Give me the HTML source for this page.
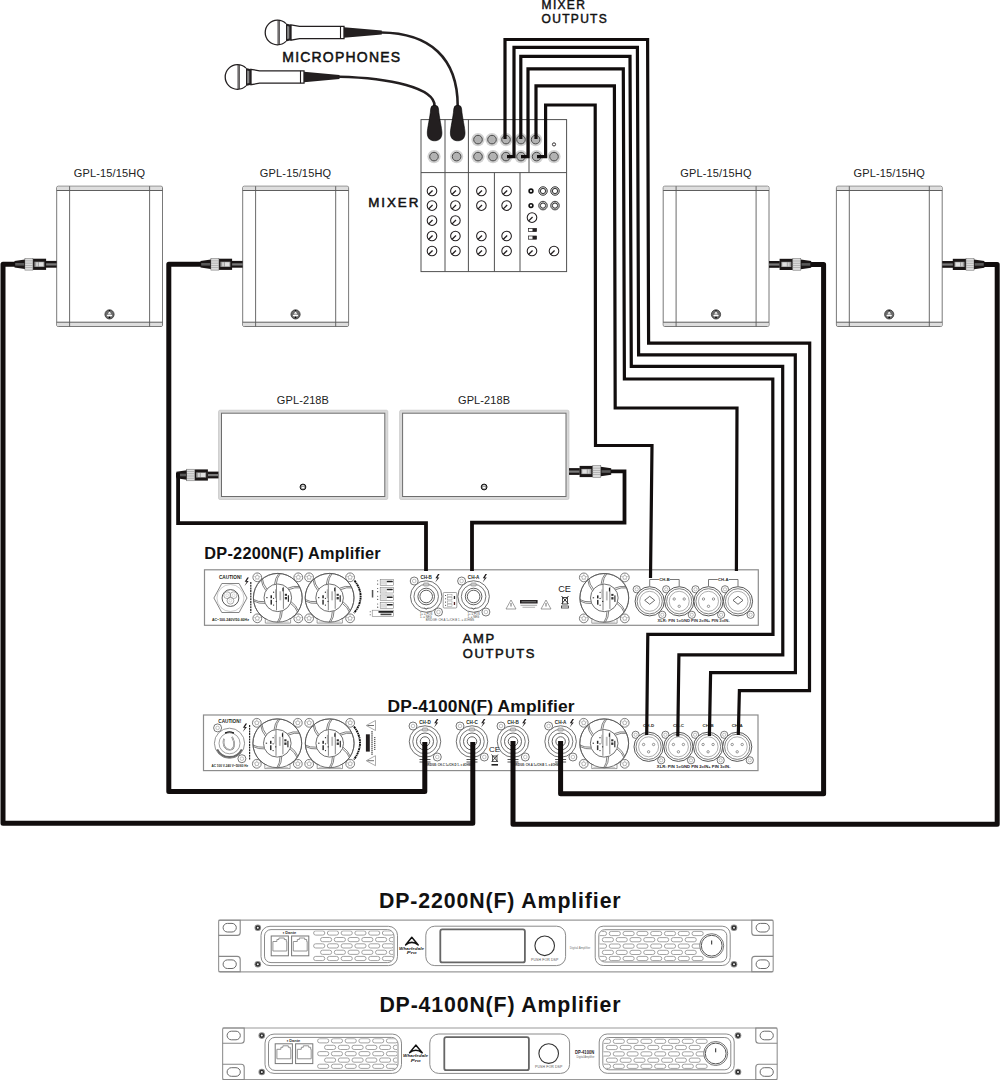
<!DOCTYPE html>
<html><head><meta charset="utf-8"><title>Wiring diagram</title>
<style>
html,body{margin:0;padding:0;background:#fff;}
body{width:1000px;height:1080px;overflow:hidden;}
svg{display:block;}
text{font-family:"Liberation Sans", sans-serif;}
</style></head><body>
<svg width="1000" height="1080" viewBox="0 0 1000 1080">
<rect x="0" y="0" width="1000" height="1080" fill="#fff"/>
<text x="541.6" y="8.5" font-size="12" fill="#111" stroke="#111" stroke-width="0.45" letter-spacing="1.3">MIXER</text>
<text x="541.6" y="22.8" font-size="12" fill="#111" stroke="#111" stroke-width="0.45" letter-spacing="1.3">OUTPUTS</text>
<text x="282.3" y="62" font-size="14" fill="#111" stroke="#111" stroke-width="0.5" letter-spacing="1.2">MICROPHONES</text>
<text x="368.2" y="206.8" font-size="13.4" fill="#111" stroke="#111" stroke-width="0.5" letter-spacing="1.95">MIXER</text>
<rect x="56.7" y="186.2" width="105.8" height="140.3" rx="1.5" fill="#fff" stroke="#6a6a6a" stroke-width="0.9"/>
<rect x="57.2" y="186.7" width="104.8" height="3.8" fill="#dedede"/>
<rect x="57.2" y="322.2" width="104.8" height="3.8" fill="#dedede"/>
<line x1="56.7" y1="190.5" x2="162.5" y2="190.5" stroke="#555" stroke-width="0.95"/>
<line x1="56.7" y1="322.2" x2="162.5" y2="322.2" stroke="#555" stroke-width="0.95"/>
<line x1="69.6" y1="186.2" x2="69.6" y2="326.5" stroke="#5a5a5a" stroke-width="0.9"/>
<line x1="149.6" y1="186.2" x2="149.6" y2="326.5" stroke="#5a5a5a" stroke-width="0.9"/>
<circle cx="109.5" cy="314.4" r="4.6" fill="#6a6a6a" stroke="#333" stroke-width="0.8"/>
<path d="M109.5 311.4 l1.7 2.4 h-3.4 z" fill="#fff"/>
<ellipse cx="109.5" cy="315.5" rx="2.8" ry="0.9" fill="#fff"/>
<circle cx="109.5" cy="310.7" r="0.6" fill="#000"/>
<circle cx="109.5" cy="317.4" r="0.8" fill="#000"/>
<text x="109.5" y="177.2" font-size="11" text-anchor="middle" fill="#222" letter-spacing="0.15">GPL-15/15HQ</text>
<rect x="242.7" y="186.2" width="105.9" height="140.3" rx="1.5" fill="#fff" stroke="#6a6a6a" stroke-width="0.9"/>
<rect x="243.2" y="186.7" width="104.9" height="3.8" fill="#dedede"/>
<rect x="243.2" y="322.2" width="104.9" height="3.8" fill="#dedede"/>
<line x1="242.7" y1="190.5" x2="348.6" y2="190.5" stroke="#555" stroke-width="0.95"/>
<line x1="242.7" y1="322.2" x2="348.6" y2="322.2" stroke="#555" stroke-width="0.95"/>
<line x1="255.6" y1="186.2" x2="255.6" y2="326.5" stroke="#5a5a5a" stroke-width="0.9"/>
<line x1="335.7" y1="186.2" x2="335.7" y2="326.5" stroke="#5a5a5a" stroke-width="0.9"/>
<circle cx="295.55" cy="314.4" r="4.6" fill="#6a6a6a" stroke="#333" stroke-width="0.8"/>
<path d="M295.55 311.4 l1.7 2.4 h-3.4 z" fill="#fff"/>
<ellipse cx="295.55" cy="315.5" rx="2.8" ry="0.9" fill="#fff"/>
<circle cx="295.55" cy="310.7" r="0.6" fill="#000"/>
<circle cx="295.55" cy="317.4" r="0.8" fill="#000"/>
<text x="295.55" y="177.2" font-size="11" text-anchor="middle" fill="#222" letter-spacing="0.15">GPL-15/15HQ</text>
<rect x="663.2" y="186.2" width="105.8" height="140.3" rx="1.5" fill="#fff" stroke="#6a6a6a" stroke-width="0.9"/>
<rect x="663.7" y="186.7" width="104.8" height="3.8" fill="#dedede"/>
<rect x="663.7" y="322.2" width="104.8" height="3.8" fill="#dedede"/>
<line x1="663.2" y1="190.5" x2="769" y2="190.5" stroke="#555" stroke-width="0.95"/>
<line x1="663.2" y1="322.2" x2="769" y2="322.2" stroke="#555" stroke-width="0.95"/>
<line x1="676.1" y1="186.2" x2="676.1" y2="326.5" stroke="#5a5a5a" stroke-width="0.9"/>
<line x1="756.1" y1="186.2" x2="756.1" y2="326.5" stroke="#5a5a5a" stroke-width="0.9"/>
<circle cx="716" cy="314.4" r="4.6" fill="#6a6a6a" stroke="#333" stroke-width="0.8"/>
<path d="M716 311.4 l1.7 2.4 h-3.4 z" fill="#fff"/>
<ellipse cx="716" cy="315.5" rx="2.8" ry="0.9" fill="#fff"/>
<circle cx="716" cy="310.7" r="0.6" fill="#000"/>
<circle cx="716" cy="317.4" r="0.8" fill="#000"/>
<text x="716" y="177.2" font-size="11" text-anchor="middle" fill="#222" letter-spacing="0.15">GPL-15/15HQ</text>
<rect x="836.4" y="186.2" width="105.8" height="140.3" rx="1.5" fill="#fff" stroke="#6a6a6a" stroke-width="0.9"/>
<rect x="836.9" y="186.7" width="104.8" height="3.8" fill="#dedede"/>
<rect x="836.9" y="322.2" width="104.8" height="3.8" fill="#dedede"/>
<line x1="836.4" y1="190.5" x2="942.2" y2="190.5" stroke="#555" stroke-width="0.95"/>
<line x1="836.4" y1="322.2" x2="942.2" y2="322.2" stroke="#555" stroke-width="0.95"/>
<line x1="849.3" y1="186.2" x2="849.3" y2="326.5" stroke="#5a5a5a" stroke-width="0.9"/>
<line x1="929.3" y1="186.2" x2="929.3" y2="326.5" stroke="#5a5a5a" stroke-width="0.9"/>
<circle cx="889.2" cy="314.4" r="4.6" fill="#6a6a6a" stroke="#333" stroke-width="0.8"/>
<path d="M889.2 311.4 l1.7 2.4 h-3.4 z" fill="#fff"/>
<ellipse cx="889.2" cy="315.5" rx="2.8" ry="0.9" fill="#fff"/>
<circle cx="889.2" cy="310.7" r="0.6" fill="#000"/>
<circle cx="889.2" cy="317.4" r="0.8" fill="#000"/>
<text x="889.2" y="177.2" font-size="11" text-anchor="middle" fill="#222" letter-spacing="0.15">GPL-15/15HQ</text>
<rect x="218.5" y="410.2" width="169.3" height="89.3" rx="1.5" fill="#d9d9d9" stroke="#bdbdbd" stroke-width="0.6"/>
<rect x="221.5" y="413.2" width="163.3" height="83.3" fill="#fff" stroke="#6d6d6d" stroke-width="1"/>
<circle cx="302.95" cy="487" r="2.9" fill="#8a8a8a" stroke="#111" stroke-width="1"/>
<rect x="301.65" y="486.8" width="2.6" height="1.6" fill="#fff"/>
<rect x="301.95" y="485" width="2" height="0.9" fill="#ddd"/>
<text x="302.95" y="403.7" font-size="11" text-anchor="middle" fill="#222" letter-spacing="0.1">GPL-218B</text>
<rect x="399.6" y="410.2" width="169.4" height="89.3" rx="1.5" fill="#d9d9d9" stroke="#bdbdbd" stroke-width="0.6"/>
<rect x="402.6" y="413.2" width="163.4" height="83.3" fill="#fff" stroke="#6d6d6d" stroke-width="1"/>
<circle cx="484.1" cy="487" r="2.9" fill="#8a8a8a" stroke="#111" stroke-width="1"/>
<rect x="482.8" y="486.8" width="2.6" height="1.6" fill="#fff"/>
<rect x="483.1" y="485" width="2" height="0.9" fill="#ddd"/>
<text x="484.1" y="403.7" font-size="11" text-anchor="middle" fill="#222" letter-spacing="0.1">GPL-218B</text>
<rect x="45.9" y="260.9" width="10.8" height="6.8" fill="#1a1616"/>
<rect x="45.9" y="263.3" width="10.8" height="2.2" fill="#7a7a7a"/>
<rect x="32.9" y="258.7" width="13.2" height="11.2" fill="#1a1616"/>
<rect x="34.4" y="261.7" width="10" height="5.2" fill="#9a9a9a"/>
<rect x="38.9" y="262.3" width="4.5" height="4" fill="#e0e0e0"/>
<rect x="36.1" y="262.3" width="2" height="4" fill="#d0d0d0"/>
<rect x="24.9" y="258.5" width="8" height="11.6" fill="#dcdcdc" stroke="#666" stroke-width="0.5"/>
<rect x="24.9" y="260.6" width="8" height="0.6" fill="#9a9a9a"/>
<rect x="24.9" y="262.8" width="8" height="0.6" fill="#9a9a9a"/>
<rect x="24.9" y="265" width="8" height="0.6" fill="#9a9a9a"/>
<rect x="24.9" y="267.2" width="8" height="0.6" fill="#9a9a9a"/>
<polygon points="24.9,259.5 14.5,261 14.5,267.6 24.9,269.1" fill="#1a1616"/>
<rect x="15.2" y="263" width="9" height="2.6" fill="#5a5a5a"/>
<rect x="231.9" y="260.9" width="10.8" height="6.8" fill="#1a1616"/>
<rect x="231.9" y="263.3" width="10.8" height="2.2" fill="#7a7a7a"/>
<rect x="218.9" y="258.7" width="13.2" height="11.2" fill="#1a1616"/>
<rect x="220.4" y="261.7" width="10" height="5.2" fill="#9a9a9a"/>
<rect x="224.9" y="262.3" width="4.5" height="4" fill="#e0e0e0"/>
<rect x="222.1" y="262.3" width="2" height="4" fill="#d0d0d0"/>
<rect x="210.9" y="258.5" width="8" height="11.6" fill="#dcdcdc" stroke="#666" stroke-width="0.5"/>
<rect x="210.9" y="260.6" width="8" height="0.6" fill="#9a9a9a"/>
<rect x="210.9" y="262.8" width="8" height="0.6" fill="#9a9a9a"/>
<rect x="210.9" y="265" width="8" height="0.6" fill="#9a9a9a"/>
<rect x="210.9" y="267.2" width="8" height="0.6" fill="#9a9a9a"/>
<polygon points="210.9,259.5 200.5,261 200.5,267.6 210.9,269.1" fill="#1a1616"/>
<rect x="201.2" y="263" width="9" height="2.6" fill="#5a5a5a"/>
<rect x="769" y="261" width="10.8" height="6.8" fill="#1a1616"/>
<rect x="769" y="263.4" width="10.8" height="2.2" fill="#7a7a7a"/>
<rect x="779.6" y="258.8" width="13.2" height="11.2" fill="#1a1616"/>
<rect x="781.3" y="261.8" width="10" height="5.2" fill="#9a9a9a"/>
<rect x="782.3" y="262.4" width="4.5" height="4" fill="#e0e0e0"/>
<rect x="787.6" y="262.4" width="2" height="4" fill="#d0d0d0"/>
<rect x="792.8" y="258.6" width="8" height="11.6" fill="#dcdcdc" stroke="#666" stroke-width="0.5"/>
<rect x="792.8" y="260.7" width="8" height="0.6" fill="#9a9a9a"/>
<rect x="792.8" y="262.9" width="8" height="0.6" fill="#9a9a9a"/>
<rect x="792.8" y="265.1" width="8" height="0.6" fill="#9a9a9a"/>
<rect x="792.8" y="267.3" width="8" height="0.6" fill="#9a9a9a"/>
<polygon points="800.8,259.6 811.2,261.1 811.2,267.7 800.8,269.2" fill="#1a1616"/>
<rect x="801.5" y="263.1" width="9" height="2.6" fill="#5a5a5a"/>
<rect x="942.2" y="261" width="10.8" height="6.8" fill="#1a1616"/>
<rect x="942.2" y="263.4" width="10.8" height="2.2" fill="#7a7a7a"/>
<rect x="952.8" y="258.8" width="13.2" height="11.2" fill="#1a1616"/>
<rect x="954.5" y="261.8" width="10" height="5.2" fill="#9a9a9a"/>
<rect x="955.5" y="262.4" width="4.5" height="4" fill="#e0e0e0"/>
<rect x="960.8" y="262.4" width="2" height="4" fill="#d0d0d0"/>
<rect x="966" y="258.6" width="8" height="11.6" fill="#dcdcdc" stroke="#666" stroke-width="0.5"/>
<rect x="966" y="260.7" width="8" height="0.6" fill="#9a9a9a"/>
<rect x="966" y="262.9" width="8" height="0.6" fill="#9a9a9a"/>
<rect x="966" y="265.1" width="8" height="0.6" fill="#9a9a9a"/>
<rect x="966" y="267.3" width="8" height="0.6" fill="#9a9a9a"/>
<polygon points="974,259.6 984.4,261.1 984.4,267.7 974,269.2" fill="#1a1616"/>
<rect x="974.7" y="263.1" width="9" height="2.6" fill="#5a5a5a"/>
<rect x="207.7" y="471.6" width="10.8" height="6.8" fill="#1a1616"/>
<rect x="207.7" y="474" width="10.8" height="2.2" fill="#7a7a7a"/>
<rect x="194.7" y="469.4" width="13.2" height="11.2" fill="#1a1616"/>
<rect x="196.2" y="472.4" width="10" height="5.2" fill="#9a9a9a"/>
<rect x="200.7" y="473" width="4.5" height="4" fill="#e0e0e0"/>
<rect x="197.9" y="473" width="2" height="4" fill="#d0d0d0"/>
<rect x="186.7" y="469.2" width="8" height="11.6" fill="#dcdcdc" stroke="#666" stroke-width="0.5"/>
<rect x="186.7" y="471.3" width="8" height="0.6" fill="#9a9a9a"/>
<rect x="186.7" y="473.5" width="8" height="0.6" fill="#9a9a9a"/>
<rect x="186.7" y="475.7" width="8" height="0.6" fill="#9a9a9a"/>
<rect x="186.7" y="477.9" width="8" height="0.6" fill="#9a9a9a"/>
<polygon points="186.7,470.2 176.3,471.7 176.3,478.3 186.7,479.8" fill="#1a1616"/>
<rect x="177" y="473.7" width="9" height="2.6" fill="#5a5a5a"/>
<rect x="569" y="468.1" width="10.8" height="6.8" fill="#1a1616"/>
<rect x="569" y="470.5" width="10.8" height="2.2" fill="#7a7a7a"/>
<rect x="579.6" y="465.9" width="13.2" height="11.2" fill="#1a1616"/>
<rect x="581.3" y="468.9" width="10" height="5.2" fill="#9a9a9a"/>
<rect x="582.3" y="469.5" width="4.5" height="4" fill="#e0e0e0"/>
<rect x="587.6" y="469.5" width="2" height="4" fill="#d0d0d0"/>
<rect x="592.8" y="465.7" width="8" height="11.6" fill="#dcdcdc" stroke="#666" stroke-width="0.5"/>
<rect x="592.8" y="467.8" width="8" height="0.6" fill="#9a9a9a"/>
<rect x="592.8" y="470" width="8" height="0.6" fill="#9a9a9a"/>
<rect x="592.8" y="472.2" width="8" height="0.6" fill="#9a9a9a"/>
<rect x="592.8" y="474.4" width="8" height="0.6" fill="#9a9a9a"/>
<polygon points="600.8,466.7 611.2,468.2 611.2,474.8 600.8,476.3" fill="#1a1616"/>
<rect x="601.5" y="470.2" width="9" height="2.6" fill="#5a5a5a"/>
<rect x="204.5" y="569.8" width="553.8" height="55.5" fill="#fff" stroke="#8c8c8c" stroke-width="1.2"/>
<text x="204.3" y="558.6" font-size="16.3" font-weight="bold" fill="#111" letter-spacing="0.25">DP-2200N(F) Amplifier</text>
<polygon points="213.9,598 221.8,583.5 239.1,583.5 247,598 239.1,612.5 221.8,612.5" fill="#fff" stroke="#666" stroke-width="0.8"/>
<circle cx="230.45" cy="598" r="13.5" fill="none" stroke="#aaa" stroke-width="0.6"/>
<circle cx="230.45" cy="598" r="8.4" fill="none" stroke="#444" stroke-width="0.9"/>
<circle cx="227.15" cy="595.2" r="3.4" fill="none" stroke="#888" stroke-width="0.7"/>
<circle cx="227.15" cy="595.2" r="1.4" fill="none" stroke="#bbb" stroke-width="0.5"/>
<circle cx="233.65" cy="595.2" r="3.4" fill="none" stroke="#888" stroke-width="0.7"/>
<circle cx="233.65" cy="595.2" r="1.4" fill="none" stroke="#bbb" stroke-width="0.5"/>
<circle cx="230.45" cy="600.7" r="3.4" fill="none" stroke="#888" stroke-width="0.7"/>
<circle cx="230.45" cy="600.7" r="1.4" fill="none" stroke="#bbb" stroke-width="0.5"/>
<text x="230.45" y="578.6" font-size="4.7" font-weight="bold" text-anchor="middle" fill="#231f20">CAUTION!</text>
<text x="230.45" y="620.6" font-size="4.1" font-weight="bold" text-anchor="middle" fill="#231f20" textLength="37" lengthAdjust="spacingAndGlyphs">AC~100-240V/50-60Hz</text>
<path d="M247.3 577.5 l-2.6 4.2 h2 l-2.2 4.4 l4.2 -5.2 h-2 l2.2 -3.4 z" fill="#231f20"/>
<line x1="250.8" y1="582" x2="250.8" y2="613" stroke="#222" stroke-width="1.2" stroke-dasharray="2 0.7"/>
<circle cx="257.3" cy="577.3" r="4.4" fill="#fff" stroke="#555" stroke-width="0.75"/>
<circle cx="257.3" cy="577.3" r="1.9" fill="none" stroke="#888" stroke-width="0.6"/>
<line x1="257.3" y1="575.4" x2="257.3" y2="573.1" stroke="#999" stroke-width="0.45"/>
<line x1="259.11" y1="576.71" x2="261.29" y2="576" stroke="#999" stroke-width="0.45"/>
<line x1="258.42" y1="578.84" x2="259.77" y2="580.7" stroke="#999" stroke-width="0.45"/>
<line x1="256.18" y1="578.84" x2="254.83" y2="580.7" stroke="#999" stroke-width="0.45"/>
<line x1="255.49" y1="576.71" x2="253.31" y2="576" stroke="#999" stroke-width="0.45"/>
<circle cx="257.3" cy="618.3" r="4.4" fill="#fff" stroke="#555" stroke-width="0.75"/>
<circle cx="257.3" cy="618.3" r="1.9" fill="none" stroke="#888" stroke-width="0.6"/>
<line x1="257.3" y1="616.4" x2="257.3" y2="614.1" stroke="#999" stroke-width="0.45"/>
<line x1="259.11" y1="617.71" x2="261.29" y2="617" stroke="#999" stroke-width="0.45"/>
<line x1="258.42" y1="619.84" x2="259.77" y2="621.7" stroke="#999" stroke-width="0.45"/>
<line x1="256.18" y1="619.84" x2="254.83" y2="621.7" stroke="#999" stroke-width="0.45"/>
<line x1="255.49" y1="617.71" x2="253.31" y2="617" stroke="#999" stroke-width="0.45"/>
<circle cx="298.3" cy="577.3" r="4.4" fill="#fff" stroke="#555" stroke-width="0.75"/>
<circle cx="298.3" cy="577.3" r="1.9" fill="none" stroke="#888" stroke-width="0.6"/>
<line x1="298.3" y1="575.4" x2="298.3" y2="573.1" stroke="#999" stroke-width="0.45"/>
<line x1="300.11" y1="576.71" x2="302.29" y2="576" stroke="#999" stroke-width="0.45"/>
<line x1="299.42" y1="578.84" x2="300.77" y2="580.7" stroke="#999" stroke-width="0.45"/>
<line x1="297.18" y1="578.84" x2="295.83" y2="580.7" stroke="#999" stroke-width="0.45"/>
<line x1="296.49" y1="576.71" x2="294.31" y2="576" stroke="#999" stroke-width="0.45"/>
<circle cx="298.3" cy="618.3" r="4.4" fill="#fff" stroke="#555" stroke-width="0.75"/>
<circle cx="298.3" cy="618.3" r="1.9" fill="none" stroke="#888" stroke-width="0.6"/>
<line x1="298.3" y1="616.4" x2="298.3" y2="614.1" stroke="#999" stroke-width="0.45"/>
<line x1="300.11" y1="617.71" x2="302.29" y2="617" stroke="#999" stroke-width="0.45"/>
<line x1="299.42" y1="619.84" x2="300.77" y2="621.7" stroke="#999" stroke-width="0.45"/>
<line x1="297.18" y1="619.84" x2="295.83" y2="621.7" stroke="#999" stroke-width="0.45"/>
<line x1="296.49" y1="617.71" x2="294.31" y2="617" stroke="#999" stroke-width="0.45"/>
<circle cx="277.8" cy="597.8" r="24.4" fill="#fff" stroke="#555" stroke-width="0.8"/>
<path d="M265.3 619.3 V623.1 H290.6 V619.3" fill="#fff" stroke="#777" stroke-width="0.7"/>
<rect x="266.8" y="621.4" width="22" height="1.3" fill="#ccc"/>
<circle cx="277.8" cy="597.8" r="24.4" fill="none" stroke="#555" stroke-width="0.8"/>
<path d="M274.52 584.37 L275.85 578.49 L278.6 573.82" fill="none" stroke="#555" stroke-width="0.75"/>
<path d="M276.29 584.05 L277.62 578.17 L280.37 573.5" fill="none" stroke="#555" stroke-width="0.75"/>
<path d="M287.79 588.24 L293.55 586.45 L298.97 586.5" fill="none" stroke="#555" stroke-width="0.75"/>
<path d="M288.95 589.62 L294.71 587.83 L300.13 587.88" fill="none" stroke="#555" stroke-width="0.75"/>
<path d="M291.08 601.67 L295.5 605.77 L298.17 610.49" fill="none" stroke="#555" stroke-width="0.75"/>
<path d="M290.46 603.37 L294.89 607.46 L297.55 612.18" fill="none" stroke="#555" stroke-width="0.75"/>
<path d="M282.24 610.9 L281.43 616.87 L279.09 621.76" fill="none" stroke="#555" stroke-width="0.75"/>
<path d="M280.5 611.36 L279.69 617.34 L277.35 622.23" fill="none" stroke="#555" stroke-width="0.75"/>
<path d="M265.14 603.37 L259.12 603.07 L254.04 601.18" fill="none" stroke="#555" stroke-width="0.75"/>
<path d="M264.52 601.67 L258.5 601.38 L253.42 599.48" fill="none" stroke="#555" stroke-width="0.75"/>
<path d="M265.98 590.62 L262.76 585.52 L261.41 580.27" fill="none" stroke="#555" stroke-width="0.75"/>
<path d="M267.01 589.15 L263.8 584.05 L262.44 578.8" fill="none" stroke="#555" stroke-width="0.75"/>
<circle cx="277.8" cy="597.8" r="13.8" fill="#fff" stroke="#555" stroke-width="0.85"/>
<line x1="276.5" y1="584.8" x2="276.5" y2="610.3" stroke="#666" stroke-width="0.8"/>
<line x1="283.4" y1="586.8" x2="283.4" y2="608.8" stroke="#666" stroke-width="0.8"/>
<rect x="270.5" y="595.3" width="1.5" height="3" fill="#222"/>
<rect x="270.5" y="599.8" width="1.5" height="4.8" fill="#333"/>
<rect x="275" y="589.3" width="1.1" height="9" fill="#aaa"/>
<rect x="279.4" y="591.3" width="1.8" height="9" fill="#bbb"/>
<rect x="282.4" y="587.8" width="1.1" height="3.5" fill="#222"/>
<rect x="284.8" y="593.8" width="2.2" height="2" fill="#333"/>
<rect x="284.8" y="597" width="2.2" height="2.4" fill="#333"/>
<rect x="287.8" y="595.3" width="1.2" height="6.5" fill="#333"/>
<circle cx="273.6" cy="592.2" r="0.65" fill="#222"/>
<circle cx="273.6" cy="598.3" r="0.65" fill="#222"/>
<circle cx="276.2" cy="601.3" r="0.65" fill="#222"/>
<circle cx="273.6" cy="605.1" r="0.65" fill="#222"/>
<rect x="266.2" y="597.2" width="1.4" height="1" fill="#222"/>
<circle cx="309.1" cy="577.3" r="4.4" fill="#fff" stroke="#555" stroke-width="0.75"/>
<circle cx="309.1" cy="577.3" r="1.9" fill="none" stroke="#888" stroke-width="0.6"/>
<line x1="309.1" y1="575.4" x2="309.1" y2="573.1" stroke="#999" stroke-width="0.45"/>
<line x1="310.91" y1="576.71" x2="313.09" y2="576" stroke="#999" stroke-width="0.45"/>
<line x1="310.22" y1="578.84" x2="311.57" y2="580.7" stroke="#999" stroke-width="0.45"/>
<line x1="307.98" y1="578.84" x2="306.63" y2="580.7" stroke="#999" stroke-width="0.45"/>
<line x1="307.29" y1="576.71" x2="305.11" y2="576" stroke="#999" stroke-width="0.45"/>
<circle cx="309.1" cy="618.3" r="4.4" fill="#fff" stroke="#555" stroke-width="0.75"/>
<circle cx="309.1" cy="618.3" r="1.9" fill="none" stroke="#888" stroke-width="0.6"/>
<line x1="309.1" y1="616.4" x2="309.1" y2="614.1" stroke="#999" stroke-width="0.45"/>
<line x1="310.91" y1="617.71" x2="313.09" y2="617" stroke="#999" stroke-width="0.45"/>
<line x1="310.22" y1="619.84" x2="311.57" y2="621.7" stroke="#999" stroke-width="0.45"/>
<line x1="307.98" y1="619.84" x2="306.63" y2="621.7" stroke="#999" stroke-width="0.45"/>
<line x1="307.29" y1="617.71" x2="305.11" y2="617" stroke="#999" stroke-width="0.45"/>
<circle cx="350.1" cy="577.3" r="4.4" fill="#fff" stroke="#555" stroke-width="0.75"/>
<circle cx="350.1" cy="577.3" r="1.9" fill="none" stroke="#888" stroke-width="0.6"/>
<line x1="350.1" y1="575.4" x2="350.1" y2="573.1" stroke="#999" stroke-width="0.45"/>
<line x1="351.91" y1="576.71" x2="354.09" y2="576" stroke="#999" stroke-width="0.45"/>
<line x1="351.22" y1="578.84" x2="352.57" y2="580.7" stroke="#999" stroke-width="0.45"/>
<line x1="348.98" y1="578.84" x2="347.63" y2="580.7" stroke="#999" stroke-width="0.45"/>
<line x1="348.29" y1="576.71" x2="346.11" y2="576" stroke="#999" stroke-width="0.45"/>
<circle cx="350.1" cy="618.3" r="4.4" fill="#fff" stroke="#555" stroke-width="0.75"/>
<circle cx="350.1" cy="618.3" r="1.9" fill="none" stroke="#888" stroke-width="0.6"/>
<line x1="350.1" y1="616.4" x2="350.1" y2="614.1" stroke="#999" stroke-width="0.45"/>
<line x1="351.91" y1="617.71" x2="354.09" y2="617" stroke="#999" stroke-width="0.45"/>
<line x1="351.22" y1="619.84" x2="352.57" y2="621.7" stroke="#999" stroke-width="0.45"/>
<line x1="348.98" y1="619.84" x2="347.63" y2="621.7" stroke="#999" stroke-width="0.45"/>
<line x1="348.29" y1="617.71" x2="346.11" y2="617" stroke="#999" stroke-width="0.45"/>
<circle cx="329.6" cy="597.8" r="24.4" fill="#fff" stroke="#555" stroke-width="0.8"/>
<path d="M317.1 619.3 V623.1 H342.4 V619.3" fill="#fff" stroke="#777" stroke-width="0.7"/>
<rect x="318.6" y="621.4" width="22" height="1.3" fill="#ccc"/>
<circle cx="329.6" cy="597.8" r="24.4" fill="none" stroke="#555" stroke-width="0.8"/>
<path d="M326.32 584.37 L327.65 578.49 L330.4 573.82" fill="none" stroke="#555" stroke-width="0.75"/>
<path d="M328.09 584.05 L329.42 578.17 L332.17 573.5" fill="none" stroke="#555" stroke-width="0.75"/>
<path d="M339.59 588.24 L345.35 586.45 L350.77 586.5" fill="none" stroke="#555" stroke-width="0.75"/>
<path d="M340.75 589.62 L346.51 587.83 L351.93 587.88" fill="none" stroke="#555" stroke-width="0.75"/>
<path d="M342.88 601.67 L347.3 605.77 L349.97 610.49" fill="none" stroke="#555" stroke-width="0.75"/>
<path d="M342.26 603.37 L346.69 607.46 L349.35 612.18" fill="none" stroke="#555" stroke-width="0.75"/>
<path d="M334.04 610.9 L333.23 616.87 L330.89 621.76" fill="none" stroke="#555" stroke-width="0.75"/>
<path d="M332.3 611.36 L331.49 617.34 L329.15 622.23" fill="none" stroke="#555" stroke-width="0.75"/>
<path d="M316.94 603.37 L310.92 603.07 L305.84 601.18" fill="none" stroke="#555" stroke-width="0.75"/>
<path d="M316.32 601.67 L310.3 601.38 L305.22 599.48" fill="none" stroke="#555" stroke-width="0.75"/>
<path d="M317.78 590.62 L314.56 585.52 L313.21 580.27" fill="none" stroke="#555" stroke-width="0.75"/>
<path d="M318.81 589.15 L315.6 584.05 L314.24 578.8" fill="none" stroke="#555" stroke-width="0.75"/>
<circle cx="329.6" cy="597.8" r="13.8" fill="#fff" stroke="#555" stroke-width="0.85"/>
<line x1="328.3" y1="584.8" x2="328.3" y2="610.3" stroke="#666" stroke-width="0.8"/>
<line x1="335.2" y1="586.8" x2="335.2" y2="608.8" stroke="#666" stroke-width="0.8"/>
<rect x="322.3" y="595.3" width="1.5" height="3" fill="#222"/>
<rect x="322.3" y="599.8" width="1.5" height="4.8" fill="#333"/>
<rect x="326.8" y="589.3" width="1.1" height="9" fill="#aaa"/>
<rect x="331.2" y="591.3" width="1.8" height="9" fill="#bbb"/>
<rect x="334.2" y="587.8" width="1.1" height="3.5" fill="#222"/>
<rect x="336.6" y="593.8" width="2.2" height="2" fill="#333"/>
<rect x="336.6" y="597" width="2.2" height="2.4" fill="#333"/>
<rect x="339.6" y="595.3" width="1.2" height="6.5" fill="#333"/>
<circle cx="325.4" cy="592.2" r="0.65" fill="#222"/>
<circle cx="325.4" cy="598.3" r="0.65" fill="#222"/>
<circle cx="328" cy="601.3" r="0.65" fill="#222"/>
<circle cx="325.4" cy="605.1" r="0.65" fill="#222"/>
<rect x="318" y="597.2" width="1.4" height="1" fill="#222"/>
<path d="M354.5 580.5 Q367 597 354 613" fill="none" stroke="#111" stroke-width="1.9" stroke-dasharray="2.2 0.6 1.2 0.6"/>
<rect x="380.2" y="579.35" width="13.5" height="6.05" fill="#fff" stroke="#777" stroke-width="0.55"/>
<rect x="381" y="580.15" width="4.5" height="4.45" fill="#ddd"/>
<rect x="385.8" y="579.65" width="0.5" height="5.45" fill="#999"/>
<rect x="386.8" y="580.75" width="6" height="1.5" rx="0.6" fill="#222"/>
<circle cx="377.7" cy="580.65" r="0.5" fill="#333"/>
<circle cx="377.7" cy="584.1" r="0.6" fill="#333"/>
<rect x="380.2" y="587.3" width="13.5" height="5.7" fill="#fff" stroke="#777" stroke-width="0.55"/>
<rect x="381" y="588.1" width="4.5" height="4.1" fill="#ddd"/>
<rect x="385.8" y="587.6" width="0.5" height="5.1" fill="#999"/>
<rect x="386.8" y="588.7" width="6" height="1.5" rx="0.6" fill="#222"/>
<circle cx="377.7" cy="588.6" r="0.5" fill="#333"/>
<circle cx="377.7" cy="591.7" r="0.6" fill="#333"/>
<rect x="380.2" y="595" width="13.5" height="5.6" fill="#fff" stroke="#777" stroke-width="0.55"/>
<rect x="381" y="595.8" width="4.5" height="4" fill="#ddd"/>
<rect x="385.8" y="595.3" width="0.5" height="5" fill="#999"/>
<rect x="386.8" y="596.4" width="6" height="1.5" rx="0.6" fill="#222"/>
<circle cx="377.7" cy="596.3" r="0.5" fill="#333"/>
<circle cx="377.7" cy="599.3" r="0.6" fill="#333"/>
<rect x="380.2" y="602.7" width="13.5" height="5.8" fill="#fff" stroke="#777" stroke-width="0.55"/>
<rect x="381" y="603.5" width="4.5" height="4.2" fill="#ddd"/>
<rect x="385.8" y="603" width="0.5" height="5.2" fill="#999"/>
<rect x="386.8" y="604.1" width="6" height="1.5" rx="0.6" fill="#222"/>
<circle cx="377.7" cy="604" r="0.5" fill="#333"/>
<circle cx="377.7" cy="607.2" r="0.6" fill="#333"/>
<rect x="371.8" y="590" width="1.5" height="7.5" fill="#555"/>
<rect x="372.2" y="610.2" width="21.5" height="6.3" fill="#fff" stroke="#777" stroke-width="0.55"/>
<rect x="378.5" y="611" width="14.5" height="1.8" fill="#222"/>
<rect x="380.5" y="613.6" width="11" height="1.6" fill="#444"/>
<circle cx="370.2" cy="611.8" r="0.5" fill="#333"/>
<circle cx="370.2" cy="614.8" r="0.5" fill="#333"/>
<circle cx="426.2" cy="596.5" r="15.75" fill="#fff" stroke="#555" stroke-width="0.85"/>
<circle cx="426.2" cy="596.5" r="12.25" fill="none" stroke="#555" stroke-width="0.8"/>
<circle cx="426.2" cy="596.5" r="8.3" fill="none" stroke="#444" stroke-width="0.85"/>
<circle cx="426.2" cy="596.5" r="6.3" fill="none" stroke="#444" stroke-width="0.85"/>
<rect x="423.6" y="582.9" width="5.2" height="3.2" rx="0.8" fill="#c8c8c8" stroke="#777" stroke-width="0.5"/>
<path d="M424.4 607.5 l1.8 2 l1.8 -2" fill="none" stroke="#555" stroke-width="0.7"/>
<circle cx="414.2" cy="581" r="4" fill="#fff" stroke="#555" stroke-width="0.8"/>
<circle cx="414.2" cy="581" r="1.8" fill="none" stroke="#999" stroke-width="0.6"/>
<circle cx="438.5" cy="612" r="4" fill="#fff" stroke="#555" stroke-width="0.8"/>
<circle cx="438.5" cy="612" r="1.8" fill="none" stroke="#999" stroke-width="0.6"/>
<text x="426.2" y="579.3" font-size="4.6" font-weight="bold" text-anchor="middle" fill="#231f20">CH-B</text>
<path d="M438 574 l-2.6 4.2 h2 l-2.2 4.4 l4.2 -5.2 h-2 l2.2 -3.4 z" fill="#231f20"/>
<circle cx="473.6" cy="596.5" r="15.75" fill="#fff" stroke="#555" stroke-width="0.85"/>
<circle cx="473.6" cy="596.5" r="12.25" fill="none" stroke="#555" stroke-width="0.8"/>
<circle cx="473.6" cy="596.5" r="8.3" fill="none" stroke="#444" stroke-width="0.85"/>
<circle cx="473.6" cy="596.5" r="6.3" fill="none" stroke="#444" stroke-width="0.85"/>
<rect x="471" y="582.9" width="5.2" height="3.2" rx="0.8" fill="#c8c8c8" stroke="#777" stroke-width="0.5"/>
<path d="M471.8 607.5 l1.8 2 l1.8 -2" fill="none" stroke="#555" stroke-width="0.7"/>
<circle cx="461.6" cy="581" r="4" fill="#fff" stroke="#555" stroke-width="0.8"/>
<circle cx="461.6" cy="581" r="1.8" fill="none" stroke="#999" stroke-width="0.6"/>
<circle cx="485.9" cy="612" r="4" fill="#fff" stroke="#555" stroke-width="0.8"/>
<circle cx="485.9" cy="612" r="1.8" fill="none" stroke="#999" stroke-width="0.6"/>
<text x="473.6" y="579.3" font-size="4.6" font-weight="bold" text-anchor="middle" fill="#231f20">CH-A</text>
<path d="M485.4 574 l-2.6 4.2 h2 l-2.2 4.4 l4.2 -5.2 h-2 l2.2 -3.4 z" fill="#231f20"/>
<rect x="443.2" y="592.5" width="13.6" height="15.5" rx="1" fill="#fff" stroke="#666" stroke-width="0.6"/>
<circle cx="445.6" cy="595.5" r="0.55" fill="#222"/>
<rect x="447.5" y="594.4" width="4.5" height="2.2" fill="none" stroke="#777" stroke-width="0.4"/>
<circle cx="445.6" cy="598.8" r="0.55" fill="#222"/>
<rect x="447.5" y="597.7" width="4.5" height="2.2" fill="none" stroke="#777" stroke-width="0.4"/>
<circle cx="445.6" cy="602.1" r="0.55" fill="#222"/>
<rect x="447.5" y="601" width="4.5" height="2.2" fill="none" stroke="#777" stroke-width="0.4"/>
<circle cx="445.6" cy="605.2" r="0.55" fill="#222"/>
<rect x="447.5" y="604.1" width="4.5" height="2.2" fill="none" stroke="#777" stroke-width="0.4"/>
<rect x="453.8" y="596" width="1.3" height="3" fill="#222"/>
<rect x="453.8" y="602" width="1.3" height="3" fill="#522"/>
<text x="420" y="615.3" font-size="2.8" fill="#444">1+ = POS</text>
<text x="420" y="617.9" font-size="2.8" fill="#444">1- = NEG</text>
<text x="467.5" y="615.3" font-size="2.8" fill="#444">1+ = POS</text>
<text x="467.5" y="617.9" font-size="2.8" fill="#444">1- = NEG</text>
<text x="450" y="621" font-size="2.9" text-anchor="middle" fill="#555">BRIDGE: CH-A 1+/CH-B 1- = 4OHMS</text>
<path d="M511 600 l5 9 h-10 z" fill="#fff" stroke="#777" stroke-width="0.7"/>
<line x1="511" y1="603" x2="511" y2="606.5" stroke="#444" stroke-width="0.8"/>
<path d="M546 600 l5 9 h-10 z" fill="#fff" stroke="#777" stroke-width="0.7"/>
<line x1="546" y1="603" x2="546" y2="606.5" stroke="#444" stroke-width="0.8"/>
<rect x="520" y="600" width="17.6" height="3.5" fill="#231f20"/>
<rect x="521.5" y="601.2" width="14.6" height="1.1" fill="#777"/>
<rect x="520.5" y="604.8" width="16.6" height="0.9" fill="#999"/>
<rect x="522.5" y="606.8" width="12.6" height="0.9" fill="#aaa"/>
<text x="564.6" y="591.8" font-size="9.2" text-anchor="middle" fill="#222">CE</text>
<path d="M561.5 596 l7 8 M568.5 596 l-7 8" stroke="#333" stroke-width="1"/>
<rect x="562.5" y="597.5" width="5" height="6.5" fill="none" stroke="#333" stroke-width="0.9"/>
<rect x="561.5" y="606" width="7" height="2" fill="none" stroke="#333" stroke-width="0.8"/>
<circle cx="583.8" cy="577.4" r="4.4" fill="#fff" stroke="#555" stroke-width="0.75"/>
<circle cx="583.8" cy="577.4" r="1.9" fill="none" stroke="#888" stroke-width="0.6"/>
<line x1="583.8" y1="575.5" x2="583.8" y2="573.2" stroke="#999" stroke-width="0.45"/>
<line x1="585.61" y1="576.81" x2="587.79" y2="576.1" stroke="#999" stroke-width="0.45"/>
<line x1="584.92" y1="578.94" x2="586.27" y2="580.8" stroke="#999" stroke-width="0.45"/>
<line x1="582.68" y1="578.94" x2="581.33" y2="580.8" stroke="#999" stroke-width="0.45"/>
<line x1="581.99" y1="576.81" x2="579.81" y2="576.1" stroke="#999" stroke-width="0.45"/>
<circle cx="583.8" cy="618.4" r="4.4" fill="#fff" stroke="#555" stroke-width="0.75"/>
<circle cx="583.8" cy="618.4" r="1.9" fill="none" stroke="#888" stroke-width="0.6"/>
<line x1="583.8" y1="616.5" x2="583.8" y2="614.2" stroke="#999" stroke-width="0.45"/>
<line x1="585.61" y1="617.81" x2="587.79" y2="617.1" stroke="#999" stroke-width="0.45"/>
<line x1="584.92" y1="619.94" x2="586.27" y2="621.8" stroke="#999" stroke-width="0.45"/>
<line x1="582.68" y1="619.94" x2="581.33" y2="621.8" stroke="#999" stroke-width="0.45"/>
<line x1="581.99" y1="617.81" x2="579.81" y2="617.1" stroke="#999" stroke-width="0.45"/>
<circle cx="624.8" cy="577.4" r="4.4" fill="#fff" stroke="#555" stroke-width="0.75"/>
<circle cx="624.8" cy="577.4" r="1.9" fill="none" stroke="#888" stroke-width="0.6"/>
<line x1="624.8" y1="575.5" x2="624.8" y2="573.2" stroke="#999" stroke-width="0.45"/>
<line x1="626.61" y1="576.81" x2="628.79" y2="576.1" stroke="#999" stroke-width="0.45"/>
<line x1="625.92" y1="578.94" x2="627.27" y2="580.8" stroke="#999" stroke-width="0.45"/>
<line x1="623.68" y1="578.94" x2="622.33" y2="580.8" stroke="#999" stroke-width="0.45"/>
<line x1="622.99" y1="576.81" x2="620.81" y2="576.1" stroke="#999" stroke-width="0.45"/>
<circle cx="624.8" cy="618.4" r="4.4" fill="#fff" stroke="#555" stroke-width="0.75"/>
<circle cx="624.8" cy="618.4" r="1.9" fill="none" stroke="#888" stroke-width="0.6"/>
<line x1="624.8" y1="616.5" x2="624.8" y2="614.2" stroke="#999" stroke-width="0.45"/>
<line x1="626.61" y1="617.81" x2="628.79" y2="617.1" stroke="#999" stroke-width="0.45"/>
<line x1="625.92" y1="619.94" x2="627.27" y2="621.8" stroke="#999" stroke-width="0.45"/>
<line x1="623.68" y1="619.94" x2="622.33" y2="621.8" stroke="#999" stroke-width="0.45"/>
<line x1="622.99" y1="617.81" x2="620.81" y2="617.1" stroke="#999" stroke-width="0.45"/>
<circle cx="604.3" cy="597.9" r="24.4" fill="#fff" stroke="#555" stroke-width="0.8"/>
<path d="M591.8 619.4 V623.2 H617.1 V619.4" fill="#fff" stroke="#777" stroke-width="0.7"/>
<rect x="593.3" y="621.5" width="22" height="1.3" fill="#ccc"/>
<circle cx="604.3" cy="597.9" r="24.4" fill="none" stroke="#555" stroke-width="0.8"/>
<path d="M601.02 584.47 L602.35 578.59 L605.1 573.92" fill="none" stroke="#555" stroke-width="0.75"/>
<path d="M602.79 584.15 L604.12 578.27 L606.87 573.6" fill="none" stroke="#555" stroke-width="0.75"/>
<path d="M614.29 588.34 L620.05 586.55 L625.47 586.6" fill="none" stroke="#555" stroke-width="0.75"/>
<path d="M615.45 589.72 L621.21 587.93 L626.63 587.98" fill="none" stroke="#555" stroke-width="0.75"/>
<path d="M617.58 601.77 L622 605.87 L624.67 610.59" fill="none" stroke="#555" stroke-width="0.75"/>
<path d="M616.96 603.47 L621.39 607.56 L624.05 612.28" fill="none" stroke="#555" stroke-width="0.75"/>
<path d="M608.74 611 L607.93 616.97 L605.59 621.86" fill="none" stroke="#555" stroke-width="0.75"/>
<path d="M607 611.46 L606.19 617.44 L603.85 622.33" fill="none" stroke="#555" stroke-width="0.75"/>
<path d="M591.64 603.47 L585.62 603.17 L580.54 601.28" fill="none" stroke="#555" stroke-width="0.75"/>
<path d="M591.02 601.77 L585 601.48 L579.92 599.58" fill="none" stroke="#555" stroke-width="0.75"/>
<path d="M592.48 590.72 L589.26 585.62 L587.91 580.37" fill="none" stroke="#555" stroke-width="0.75"/>
<path d="M593.51 589.25 L590.3 584.15 L588.94 578.9" fill="none" stroke="#555" stroke-width="0.75"/>
<circle cx="604.3" cy="597.9" r="13.8" fill="#fff" stroke="#555" stroke-width="0.85"/>
<line x1="603" y1="584.9" x2="603" y2="610.4" stroke="#666" stroke-width="0.8"/>
<line x1="609.9" y1="586.9" x2="609.9" y2="608.9" stroke="#666" stroke-width="0.8"/>
<rect x="597" y="595.4" width="1.5" height="3" fill="#222"/>
<rect x="597" y="599.9" width="1.5" height="4.8" fill="#333"/>
<rect x="601.5" y="589.4" width="1.1" height="9" fill="#aaa"/>
<rect x="605.9" y="591.4" width="1.8" height="9" fill="#bbb"/>
<rect x="608.9" y="587.9" width="1.1" height="3.5" fill="#222"/>
<rect x="611.3" y="593.9" width="2.2" height="2" fill="#333"/>
<rect x="611.3" y="597.1" width="2.2" height="2.4" fill="#333"/>
<rect x="614.3" y="595.4" width="1.2" height="6.5" fill="#333"/>
<circle cx="600.1" cy="592.3" r="0.65" fill="#222"/>
<circle cx="600.1" cy="598.4" r="0.65" fill="#222"/>
<circle cx="602.7" cy="601.4" r="0.65" fill="#222"/>
<circle cx="600.1" cy="605.2" r="0.65" fill="#222"/>
<rect x="592.7" y="597.3" width="1.4" height="1" fill="#222"/>
<circle cx="636.7" cy="589.3" r="3.6" fill="#fff" stroke="#555" stroke-width="0.8"/>
<circle cx="636.7" cy="589.3" r="1.62" fill="none" stroke="#999" stroke-width="0.6"/>
<circle cx="662.3" cy="614.8" r="3.6" fill="#fff" stroke="#555" stroke-width="0.8"/>
<circle cx="662.3" cy="614.8" r="1.62" fill="none" stroke="#999" stroke-width="0.6"/>
<circle cx="649.7" cy="601.3" r="14.6" fill="#fff" stroke="#444" stroke-width="0.9"/>
<circle cx="649.7" cy="601.3" r="12.6" fill="none" stroke="#555" stroke-width="0.75"/>
<circle cx="649.7" cy="601.3" r="10" fill="none" stroke="#777" stroke-width="0.6"/>
<path d="M649.7 596.3 l5 4 l-5 4 l-5 -4 z" fill="none" stroke="#444" stroke-width="0.8"/>
<circle cx="666.2" cy="589.3" r="3.6" fill="#fff" stroke="#555" stroke-width="0.8"/>
<circle cx="666.2" cy="589.3" r="1.62" fill="none" stroke="#999" stroke-width="0.6"/>
<circle cx="691.8" cy="614.8" r="3.6" fill="#fff" stroke="#555" stroke-width="0.8"/>
<circle cx="691.8" cy="614.8" r="1.62" fill="none" stroke="#999" stroke-width="0.6"/>
<circle cx="679.2" cy="601.3" r="14.6" fill="#fff" stroke="#444" stroke-width="0.9"/>
<circle cx="679.2" cy="601.3" r="12.6" fill="none" stroke="#555" stroke-width="0.75"/>
<circle cx="679.2" cy="601.3" r="10" fill="none" stroke="#777" stroke-width="0.6"/>
<circle cx="674.2" cy="599" r="1.2" fill="none" stroke="#555" stroke-width="0.6"/>
<circle cx="684.2" cy="599" r="1.2" fill="none" stroke="#555" stroke-width="0.6"/>
<circle cx="679.2" cy="606.3" r="1.2" fill="none" stroke="#555" stroke-width="0.6"/>
<circle cx="695.5" cy="589.3" r="3.6" fill="#fff" stroke="#555" stroke-width="0.8"/>
<circle cx="695.5" cy="589.3" r="1.62" fill="none" stroke="#999" stroke-width="0.6"/>
<circle cx="721.1" cy="614.8" r="3.6" fill="#fff" stroke="#555" stroke-width="0.8"/>
<circle cx="721.1" cy="614.8" r="1.62" fill="none" stroke="#999" stroke-width="0.6"/>
<circle cx="708.5" cy="601.3" r="14.6" fill="#fff" stroke="#444" stroke-width="0.9"/>
<circle cx="708.5" cy="601.3" r="12.6" fill="none" stroke="#555" stroke-width="0.75"/>
<circle cx="708.5" cy="601.3" r="10" fill="none" stroke="#777" stroke-width="0.6"/>
<circle cx="703.5" cy="599" r="1.2" fill="none" stroke="#555" stroke-width="0.6"/>
<circle cx="713.5" cy="599" r="1.2" fill="none" stroke="#555" stroke-width="0.6"/>
<circle cx="708.5" cy="606.3" r="1.2" fill="none" stroke="#555" stroke-width="0.6"/>
<circle cx="725" cy="589.3" r="3.6" fill="#fff" stroke="#555" stroke-width="0.8"/>
<circle cx="725" cy="589.3" r="1.62" fill="none" stroke="#999" stroke-width="0.6"/>
<circle cx="750.6" cy="614.8" r="3.6" fill="#fff" stroke="#555" stroke-width="0.8"/>
<circle cx="750.6" cy="614.8" r="1.62" fill="none" stroke="#999" stroke-width="0.6"/>
<circle cx="738" cy="601.3" r="14.6" fill="#fff" stroke="#444" stroke-width="0.9"/>
<circle cx="738" cy="601.3" r="12.6" fill="none" stroke="#555" stroke-width="0.75"/>
<circle cx="738" cy="601.3" r="10" fill="none" stroke="#777" stroke-width="0.6"/>
<path d="M738 596.3 l5 4 l-5 4 l-5 -4 z" fill="none" stroke="#444" stroke-width="0.8"/>
<path d="M649.7 586 V579.5 H658.95 M669.95 579.5 H679.2 V586" fill="none" stroke="#555" stroke-width="0.8"/>
<text x="664.45" y="581.2" font-size="4.2" font-weight="bold" text-anchor="middle" fill="#231f20">CH-B</text>
<path d="M708.5 586 V579.5 H717.75 M728.75 579.5 H738 V586" fill="none" stroke="#555" stroke-width="0.8"/>
<text x="723.25" y="581.2" font-size="4.2" font-weight="bold" text-anchor="middle" fill="#231f20">CH-A</text>
<text x="693.5" y="622" font-size="3.9" font-weight="bold" text-anchor="middle" fill="#333" textLength="72" lengthAdjust="spacingAndGlyphs">XLR: PIN 1=GND  PIN 2=IN+  PIN 3=IN-</text>
<rect x="203.5" y="715" width="554.5" height="55.6" fill="#fff" stroke="#8c8c8c" stroke-width="1.2"/>
<text x="387.6" y="711.6" font-size="17.4" font-weight="bold" fill="#111" letter-spacing="0.2">DP-4100N(F) Amplifier</text>
<circle cx="229.5" cy="743.3" r="15.1" fill="#fff" stroke="#777" stroke-width="0.8"/>
<path d="M217.2 749.4 A13.7 13.7 0 0 0 241.8 749.4" fill="none" stroke="#666" stroke-width="2"/>
<circle cx="229.5" cy="743.3" r="10.5" fill="none" stroke="#777" stroke-width="0.7"/>
<path d="M224 738.8 C222 746.3 226.5 749.8 229.5 749.8 C234 749.8 236 744.3 232 736.8" fill="none" stroke="#666" stroke-width="1.6"/>
<path d="M224 738.8 C222 746.3 226.5 749.8 229.5 749.8 C234 749.8 236 744.3 232 736.8" fill="none" stroke="#fff" stroke-width="0.6"/>
<path d="M225.7 732.8 Q229.5 731 233.3 732.8" fill="none" stroke="#222" stroke-width="1.1"/>
<circle cx="225.7" cy="732.9" r="0.8" fill="#222"/>
<circle cx="233.3" cy="732.9" r="0.8" fill="#222"/>
<circle cx="217.6" cy="727.9" r="4" fill="#fff" stroke="#555" stroke-width="0.8"/>
<circle cx="217.6" cy="727.9" r="1.8" fill="none" stroke="#999" stroke-width="0.6"/>
<circle cx="241.9" cy="758.7" r="4" fill="#fff" stroke="#555" stroke-width="0.8"/>
<circle cx="241.9" cy="758.7" r="1.8" fill="none" stroke="#999" stroke-width="0.6"/>
<text x="229.75" y="723" font-size="4.7" font-weight="bold" text-anchor="middle" fill="#231f20">CAUTION!</text>
<text x="229.75" y="767.2" font-size="4.1" font-weight="bold" text-anchor="middle" fill="#231f20" textLength="36.5" lengthAdjust="spacingAndGlyphs">AC 100 V-240 V~50/60 Hz</text>
<path d="M245.5 723.5 l-2.6 4.2 h2 l-2.2 4.4 l4.2 -5.2 h-2 l2.2 -3.4 z" fill="#231f20"/>
<line x1="249.6" y1="725" x2="249.6" y2="760" stroke="#222" stroke-width="1.2" stroke-dasharray="2 0.7"/>
<circle cx="256.8" cy="722.8" r="4.4" fill="#fff" stroke="#555" stroke-width="0.75"/>
<circle cx="256.8" cy="722.8" r="1.9" fill="none" stroke="#888" stroke-width="0.6"/>
<line x1="256.8" y1="720.9" x2="256.8" y2="718.6" stroke="#999" stroke-width="0.45"/>
<line x1="258.61" y1="722.21" x2="260.79" y2="721.5" stroke="#999" stroke-width="0.45"/>
<line x1="257.92" y1="724.34" x2="259.27" y2="726.2" stroke="#999" stroke-width="0.45"/>
<line x1="255.68" y1="724.34" x2="254.33" y2="726.2" stroke="#999" stroke-width="0.45"/>
<line x1="254.99" y1="722.21" x2="252.81" y2="721.5" stroke="#999" stroke-width="0.45"/>
<circle cx="256.8" cy="763.8" r="4.4" fill="#fff" stroke="#555" stroke-width="0.75"/>
<circle cx="256.8" cy="763.8" r="1.9" fill="none" stroke="#888" stroke-width="0.6"/>
<line x1="256.8" y1="761.9" x2="256.8" y2="759.6" stroke="#999" stroke-width="0.45"/>
<line x1="258.61" y1="763.21" x2="260.79" y2="762.5" stroke="#999" stroke-width="0.45"/>
<line x1="257.92" y1="765.34" x2="259.27" y2="767.2" stroke="#999" stroke-width="0.45"/>
<line x1="255.68" y1="765.34" x2="254.33" y2="767.2" stroke="#999" stroke-width="0.45"/>
<line x1="254.99" y1="763.21" x2="252.81" y2="762.5" stroke="#999" stroke-width="0.45"/>
<circle cx="297.8" cy="722.8" r="4.4" fill="#fff" stroke="#555" stroke-width="0.75"/>
<circle cx="297.8" cy="722.8" r="1.9" fill="none" stroke="#888" stroke-width="0.6"/>
<line x1="297.8" y1="720.9" x2="297.8" y2="718.6" stroke="#999" stroke-width="0.45"/>
<line x1="299.61" y1="722.21" x2="301.79" y2="721.5" stroke="#999" stroke-width="0.45"/>
<line x1="298.92" y1="724.34" x2="300.27" y2="726.2" stroke="#999" stroke-width="0.45"/>
<line x1="296.68" y1="724.34" x2="295.33" y2="726.2" stroke="#999" stroke-width="0.45"/>
<line x1="295.99" y1="722.21" x2="293.81" y2="721.5" stroke="#999" stroke-width="0.45"/>
<circle cx="297.8" cy="763.8" r="4.4" fill="#fff" stroke="#555" stroke-width="0.75"/>
<circle cx="297.8" cy="763.8" r="1.9" fill="none" stroke="#888" stroke-width="0.6"/>
<line x1="297.8" y1="761.9" x2="297.8" y2="759.6" stroke="#999" stroke-width="0.45"/>
<line x1="299.61" y1="763.21" x2="301.79" y2="762.5" stroke="#999" stroke-width="0.45"/>
<line x1="298.92" y1="765.34" x2="300.27" y2="767.2" stroke="#999" stroke-width="0.45"/>
<line x1="296.68" y1="765.34" x2="295.33" y2="767.2" stroke="#999" stroke-width="0.45"/>
<line x1="295.99" y1="763.21" x2="293.81" y2="762.5" stroke="#999" stroke-width="0.45"/>
<circle cx="277.3" cy="743.3" r="24.4" fill="#fff" stroke="#555" stroke-width="0.8"/>
<path d="M264.8 764.8 V768.6 H290.1 V764.8" fill="#fff" stroke="#777" stroke-width="0.7"/>
<rect x="266.3" y="766.9" width="22" height="1.3" fill="#ccc"/>
<circle cx="277.3" cy="743.3" r="24.4" fill="none" stroke="#555" stroke-width="0.8"/>
<path d="M274.02 729.87 L275.35 723.99 L278.1 719.32" fill="none" stroke="#555" stroke-width="0.75"/>
<path d="M275.79 729.55 L277.12 723.67 L279.87 719" fill="none" stroke="#555" stroke-width="0.75"/>
<path d="M287.29 733.74 L293.05 731.95 L298.47 732" fill="none" stroke="#555" stroke-width="0.75"/>
<path d="M288.45 735.12 L294.21 733.33 L299.63 733.38" fill="none" stroke="#555" stroke-width="0.75"/>
<path d="M290.58 747.17 L295 751.27 L297.67 755.99" fill="none" stroke="#555" stroke-width="0.75"/>
<path d="M289.96 748.87 L294.39 752.96 L297.05 757.68" fill="none" stroke="#555" stroke-width="0.75"/>
<path d="M281.74 756.4 L280.93 762.37 L278.59 767.26" fill="none" stroke="#555" stroke-width="0.75"/>
<path d="M280 756.86 L279.19 762.84 L276.85 767.73" fill="none" stroke="#555" stroke-width="0.75"/>
<path d="M264.64 748.87 L258.62 748.57 L253.54 746.68" fill="none" stroke="#555" stroke-width="0.75"/>
<path d="M264.02 747.17 L258 746.88 L252.92 744.98" fill="none" stroke="#555" stroke-width="0.75"/>
<path d="M265.48 736.12 L262.26 731.02 L260.91 725.77" fill="none" stroke="#555" stroke-width="0.75"/>
<path d="M266.51 734.65 L263.3 729.55 L261.94 724.3" fill="none" stroke="#555" stroke-width="0.75"/>
<circle cx="277.3" cy="743.3" r="13.8" fill="#fff" stroke="#555" stroke-width="0.85"/>
<line x1="276" y1="730.3" x2="276" y2="755.8" stroke="#666" stroke-width="0.8"/>
<line x1="282.9" y1="732.3" x2="282.9" y2="754.3" stroke="#666" stroke-width="0.8"/>
<rect x="270" y="740.8" width="1.5" height="3" fill="#222"/>
<rect x="270" y="745.3" width="1.5" height="4.8" fill="#333"/>
<rect x="274.5" y="734.8" width="1.1" height="9" fill="#aaa"/>
<rect x="278.9" y="736.8" width="1.8" height="9" fill="#bbb"/>
<rect x="281.9" y="733.3" width="1.1" height="3.5" fill="#222"/>
<rect x="284.3" y="739.3" width="2.2" height="2" fill="#333"/>
<rect x="284.3" y="742.5" width="2.2" height="2.4" fill="#333"/>
<rect x="287.3" y="740.8" width="1.2" height="6.5" fill="#333"/>
<circle cx="273.1" cy="737.7" r="0.65" fill="#222"/>
<circle cx="273.1" cy="743.8" r="0.65" fill="#222"/>
<circle cx="275.7" cy="746.8" r="0.65" fill="#222"/>
<circle cx="273.1" cy="750.6" r="0.65" fill="#222"/>
<rect x="265.7" y="742.7" width="1.4" height="1" fill="#222"/>
<circle cx="309.2" cy="722.8" r="4.4" fill="#fff" stroke="#555" stroke-width="0.75"/>
<circle cx="309.2" cy="722.8" r="1.9" fill="none" stroke="#888" stroke-width="0.6"/>
<line x1="309.2" y1="720.9" x2="309.2" y2="718.6" stroke="#999" stroke-width="0.45"/>
<line x1="311.01" y1="722.21" x2="313.19" y2="721.5" stroke="#999" stroke-width="0.45"/>
<line x1="310.32" y1="724.34" x2="311.67" y2="726.2" stroke="#999" stroke-width="0.45"/>
<line x1="308.08" y1="724.34" x2="306.73" y2="726.2" stroke="#999" stroke-width="0.45"/>
<line x1="307.39" y1="722.21" x2="305.21" y2="721.5" stroke="#999" stroke-width="0.45"/>
<circle cx="309.2" cy="763.8" r="4.4" fill="#fff" stroke="#555" stroke-width="0.75"/>
<circle cx="309.2" cy="763.8" r="1.9" fill="none" stroke="#888" stroke-width="0.6"/>
<line x1="309.2" y1="761.9" x2="309.2" y2="759.6" stroke="#999" stroke-width="0.45"/>
<line x1="311.01" y1="763.21" x2="313.19" y2="762.5" stroke="#999" stroke-width="0.45"/>
<line x1="310.32" y1="765.34" x2="311.67" y2="767.2" stroke="#999" stroke-width="0.45"/>
<line x1="308.08" y1="765.34" x2="306.73" y2="767.2" stroke="#999" stroke-width="0.45"/>
<line x1="307.39" y1="763.21" x2="305.21" y2="762.5" stroke="#999" stroke-width="0.45"/>
<circle cx="350.2" cy="722.8" r="4.4" fill="#fff" stroke="#555" stroke-width="0.75"/>
<circle cx="350.2" cy="722.8" r="1.9" fill="none" stroke="#888" stroke-width="0.6"/>
<line x1="350.2" y1="720.9" x2="350.2" y2="718.6" stroke="#999" stroke-width="0.45"/>
<line x1="352.01" y1="722.21" x2="354.19" y2="721.5" stroke="#999" stroke-width="0.45"/>
<line x1="351.32" y1="724.34" x2="352.67" y2="726.2" stroke="#999" stroke-width="0.45"/>
<line x1="349.08" y1="724.34" x2="347.73" y2="726.2" stroke="#999" stroke-width="0.45"/>
<line x1="348.39" y1="722.21" x2="346.21" y2="721.5" stroke="#999" stroke-width="0.45"/>
<circle cx="350.2" cy="763.8" r="4.4" fill="#fff" stroke="#555" stroke-width="0.75"/>
<circle cx="350.2" cy="763.8" r="1.9" fill="none" stroke="#888" stroke-width="0.6"/>
<line x1="350.2" y1="761.9" x2="350.2" y2="759.6" stroke="#999" stroke-width="0.45"/>
<line x1="352.01" y1="763.21" x2="354.19" y2="762.5" stroke="#999" stroke-width="0.45"/>
<line x1="351.32" y1="765.34" x2="352.67" y2="767.2" stroke="#999" stroke-width="0.45"/>
<line x1="349.08" y1="765.34" x2="347.73" y2="767.2" stroke="#999" stroke-width="0.45"/>
<line x1="348.39" y1="763.21" x2="346.21" y2="762.5" stroke="#999" stroke-width="0.45"/>
<circle cx="329.7" cy="743.3" r="24.4" fill="#fff" stroke="#555" stroke-width="0.8"/>
<path d="M317.2 764.8 V768.6 H342.5 V764.8" fill="#fff" stroke="#777" stroke-width="0.7"/>
<rect x="318.7" y="766.9" width="22" height="1.3" fill="#ccc"/>
<circle cx="329.7" cy="743.3" r="24.4" fill="none" stroke="#555" stroke-width="0.8"/>
<path d="M326.42 729.87 L327.75 723.99 L330.5 719.32" fill="none" stroke="#555" stroke-width="0.75"/>
<path d="M328.19 729.55 L329.52 723.67 L332.27 719" fill="none" stroke="#555" stroke-width="0.75"/>
<path d="M339.69 733.74 L345.45 731.95 L350.87 732" fill="none" stroke="#555" stroke-width="0.75"/>
<path d="M340.85 735.12 L346.61 733.33 L352.03 733.38" fill="none" stroke="#555" stroke-width="0.75"/>
<path d="M342.98 747.17 L347.4 751.27 L350.07 755.99" fill="none" stroke="#555" stroke-width="0.75"/>
<path d="M342.36 748.87 L346.79 752.96 L349.45 757.68" fill="none" stroke="#555" stroke-width="0.75"/>
<path d="M334.14 756.4 L333.33 762.37 L330.99 767.26" fill="none" stroke="#555" stroke-width="0.75"/>
<path d="M332.4 756.86 L331.59 762.84 L329.25 767.73" fill="none" stroke="#555" stroke-width="0.75"/>
<path d="M317.04 748.87 L311.02 748.57 L305.94 746.68" fill="none" stroke="#555" stroke-width="0.75"/>
<path d="M316.42 747.17 L310.4 746.88 L305.32 744.98" fill="none" stroke="#555" stroke-width="0.75"/>
<path d="M317.88 736.12 L314.66 731.02 L313.31 725.77" fill="none" stroke="#555" stroke-width="0.75"/>
<path d="M318.91 734.65 L315.7 729.55 L314.34 724.3" fill="none" stroke="#555" stroke-width="0.75"/>
<circle cx="329.7" cy="743.3" r="13.8" fill="#fff" stroke="#555" stroke-width="0.85"/>
<line x1="328.4" y1="730.3" x2="328.4" y2="755.8" stroke="#666" stroke-width="0.8"/>
<line x1="335.3" y1="732.3" x2="335.3" y2="754.3" stroke="#666" stroke-width="0.8"/>
<rect x="322.4" y="740.8" width="1.5" height="3" fill="#222"/>
<rect x="322.4" y="745.3" width="1.5" height="4.8" fill="#333"/>
<rect x="326.9" y="734.8" width="1.1" height="9" fill="#aaa"/>
<rect x="331.3" y="736.8" width="1.8" height="9" fill="#bbb"/>
<rect x="334.3" y="733.3" width="1.1" height="3.5" fill="#222"/>
<rect x="336.7" y="739.3" width="2.2" height="2" fill="#333"/>
<rect x="336.7" y="742.5" width="2.2" height="2.4" fill="#333"/>
<rect x="339.7" y="740.8" width="1.2" height="6.5" fill="#333"/>
<circle cx="325.5" cy="737.7" r="0.65" fill="#222"/>
<circle cx="325.5" cy="743.8" r="0.65" fill="#222"/>
<circle cx="328.1" cy="746.8" r="0.65" fill="#222"/>
<circle cx="325.5" cy="750.6" r="0.65" fill="#222"/>
<rect x="318.1" y="742.7" width="1.4" height="1" fill="#222"/>
<path d="M354 726.5 Q366 743 354 759.5" fill="none" stroke="#111" stroke-width="1.9" stroke-dasharray="2.2 0.6 1.2 0.6"/>
<path d="M366.2 725.5 L375.5 720.5 V730.5 Z" fill="#fff" stroke="#888" stroke-width="0.7"/>
<line x1="367.5" y1="725.5" x2="374" y2="725.5" stroke="#333" stroke-width="0.7"/>
<path d="M366.2 760.7 L375.5 755.7 V765.7 Z" fill="#fff" stroke="#888" stroke-width="0.7"/>
<line x1="367.5" y1="760.7" x2="374" y2="760.7" stroke="#333" stroke-width="0.7"/>
<rect x="365.9" y="734.3" width="3.9" height="17.3" fill="#231f20"/>
<line x1="372" y1="731" x2="372" y2="755" stroke="#222" stroke-width="1" stroke-dasharray="1.5 0.6"/>
<line x1="374.8" y1="737" x2="374.8" y2="750" stroke="#222" stroke-width="1" stroke-dasharray="1.2 0.8"/>
<circle cx="425" cy="741.5" r="15.75" fill="#fff" stroke="#555" stroke-width="0.85"/>
<circle cx="425" cy="741.5" r="12.25" fill="none" stroke="#555" stroke-width="0.8"/>
<circle cx="425" cy="741.5" r="8.5" fill="none" stroke="#444" stroke-width="0.85"/>
<circle cx="425" cy="741.5" r="4.75" fill="none" stroke="#444" stroke-width="0.85"/>
<rect x="422.4" y="727.9" width="5.2" height="3.2" rx="0.8" fill="#c8c8c8" stroke="#777" stroke-width="0.5"/>
<path d="M423.2 752.5 l1.8 2 l1.8 -2" fill="none" stroke="#555" stroke-width="0.7"/>
<circle cx="413" cy="726" r="4" fill="#fff" stroke="#555" stroke-width="0.8"/>
<circle cx="413" cy="726" r="1.8" fill="none" stroke="#999" stroke-width="0.6"/>
<circle cx="437.3" cy="757" r="4" fill="#fff" stroke="#555" stroke-width="0.8"/>
<circle cx="437.3" cy="757" r="1.8" fill="none" stroke="#999" stroke-width="0.6"/>
<text x="425" y="724.3" font-size="4.6" font-weight="bold" text-anchor="middle" fill="#231f20">CH-D</text>
<path d="M436.8 719 l-2.6 4.2 h2 l-2.2 4.4 l4.2 -5.2 h-2 l2.2 -3.4 z" fill="#231f20"/>
<rect x="419.5" y="759" width="11" height="1" fill="#555"/>
<rect x="419.5" y="761.5" width="11" height="1" fill="#555"/>
<circle cx="472" cy="741.5" r="15.75" fill="#fff" stroke="#555" stroke-width="0.85"/>
<circle cx="472" cy="741.5" r="12.25" fill="none" stroke="#555" stroke-width="0.8"/>
<circle cx="472" cy="741.5" r="8.5" fill="none" stroke="#444" stroke-width="0.85"/>
<circle cx="472" cy="741.5" r="4.75" fill="none" stroke="#444" stroke-width="0.85"/>
<rect x="469.4" y="727.9" width="5.2" height="3.2" rx="0.8" fill="#c8c8c8" stroke="#777" stroke-width="0.5"/>
<path d="M470.2 752.5 l1.8 2 l1.8 -2" fill="none" stroke="#555" stroke-width="0.7"/>
<circle cx="460" cy="726" r="4" fill="#fff" stroke="#555" stroke-width="0.8"/>
<circle cx="460" cy="726" r="1.8" fill="none" stroke="#999" stroke-width="0.6"/>
<circle cx="484.3" cy="757" r="4" fill="#fff" stroke="#555" stroke-width="0.8"/>
<circle cx="484.3" cy="757" r="1.8" fill="none" stroke="#999" stroke-width="0.6"/>
<text x="472" y="724.3" font-size="4.6" font-weight="bold" text-anchor="middle" fill="#231f20">CH-C</text>
<path d="M483.8 719 l-2.6 4.2 h2 l-2.2 4.4 l4.2 -5.2 h-2 l2.2 -3.4 z" fill="#231f20"/>
<rect x="466.5" y="759" width="11" height="1" fill="#555"/>
<rect x="466.5" y="761.5" width="11" height="1" fill="#555"/>
<circle cx="513" cy="741.5" r="15.75" fill="#fff" stroke="#555" stroke-width="0.85"/>
<circle cx="513" cy="741.5" r="12.25" fill="none" stroke="#555" stroke-width="0.8"/>
<circle cx="513" cy="741.5" r="8.5" fill="none" stroke="#444" stroke-width="0.85"/>
<circle cx="513" cy="741.5" r="4.75" fill="none" stroke="#444" stroke-width="0.85"/>
<rect x="510.4" y="727.9" width="5.2" height="3.2" rx="0.8" fill="#c8c8c8" stroke="#777" stroke-width="0.5"/>
<path d="M511.2 752.5 l1.8 2 l1.8 -2" fill="none" stroke="#555" stroke-width="0.7"/>
<circle cx="501" cy="726" r="4" fill="#fff" stroke="#555" stroke-width="0.8"/>
<circle cx="501" cy="726" r="1.8" fill="none" stroke="#999" stroke-width="0.6"/>
<circle cx="525.3" cy="757" r="4" fill="#fff" stroke="#555" stroke-width="0.8"/>
<circle cx="525.3" cy="757" r="1.8" fill="none" stroke="#999" stroke-width="0.6"/>
<text x="513" y="724.3" font-size="4.6" font-weight="bold" text-anchor="middle" fill="#231f20">CH-B</text>
<path d="M524.8 719 l-2.6 4.2 h2 l-2.2 4.4 l4.2 -5.2 h-2 l2.2 -3.4 z" fill="#231f20"/>
<rect x="507.5" y="759" width="11" height="1" fill="#555"/>
<rect x="507.5" y="761.5" width="11" height="1" fill="#555"/>
<circle cx="560.6" cy="741.5" r="15.75" fill="#fff" stroke="#555" stroke-width="0.85"/>
<circle cx="560.6" cy="741.5" r="12.25" fill="none" stroke="#555" stroke-width="0.8"/>
<circle cx="560.6" cy="741.5" r="8.5" fill="none" stroke="#444" stroke-width="0.85"/>
<circle cx="560.6" cy="741.5" r="4.75" fill="none" stroke="#444" stroke-width="0.85"/>
<rect x="558" y="727.9" width="5.2" height="3.2" rx="0.8" fill="#c8c8c8" stroke="#777" stroke-width="0.5"/>
<path d="M558.8 752.5 l1.8 2 l1.8 -2" fill="none" stroke="#555" stroke-width="0.7"/>
<circle cx="548.6" cy="726" r="4" fill="#fff" stroke="#555" stroke-width="0.8"/>
<circle cx="548.6" cy="726" r="1.8" fill="none" stroke="#999" stroke-width="0.6"/>
<circle cx="572.9" cy="757" r="4" fill="#fff" stroke="#555" stroke-width="0.8"/>
<circle cx="572.9" cy="757" r="1.8" fill="none" stroke="#999" stroke-width="0.6"/>
<text x="560.6" y="724.3" font-size="4.6" font-weight="bold" text-anchor="middle" fill="#231f20">CH-A</text>
<path d="M572.4 719 l-2.6 4.2 h2 l-2.2 4.4 l4.2 -5.2 h-2 l2.2 -3.4 z" fill="#231f20"/>
<rect x="555.1" y="759" width="11" height="1" fill="#555"/>
<rect x="555.1" y="761.5" width="11" height="1" fill="#555"/>
<text x="449" y="765.6" font-size="2.8" font-weight="bold" text-anchor="middle" fill="#333">BRIDGE: CH-C 1+/CH-D 1- = 4OHMS</text>
<text x="537" y="765.6" font-size="2.8" font-weight="bold" text-anchor="middle" fill="#333">BRIDGE: CH-A 1+/CH-B 1- = 4OHMS</text>
<text x="494.5" y="752" font-size="8" text-anchor="middle" fill="#222">CE</text>
<path d="M491.5 754.5 l6.5 7.5 M498 754.5 l-6.5 7.5" stroke="#333" stroke-width="0.9"/>
<rect x="492.5" y="756" width="4.5" height="5.5" fill="none" stroke="#333" stroke-width="0.8"/>
<rect x="491.5" y="764" width="6.5" height="1.6" fill="#222"/>
<circle cx="583.7" cy="722.8" r="4.4" fill="#fff" stroke="#555" stroke-width="0.75"/>
<circle cx="583.7" cy="722.8" r="1.9" fill="none" stroke="#888" stroke-width="0.6"/>
<line x1="583.7" y1="720.9" x2="583.7" y2="718.6" stroke="#999" stroke-width="0.45"/>
<line x1="585.51" y1="722.21" x2="587.69" y2="721.5" stroke="#999" stroke-width="0.45"/>
<line x1="584.82" y1="724.34" x2="586.17" y2="726.2" stroke="#999" stroke-width="0.45"/>
<line x1="582.58" y1="724.34" x2="581.23" y2="726.2" stroke="#999" stroke-width="0.45"/>
<line x1="581.89" y1="722.21" x2="579.71" y2="721.5" stroke="#999" stroke-width="0.45"/>
<circle cx="583.7" cy="763.8" r="4.4" fill="#fff" stroke="#555" stroke-width="0.75"/>
<circle cx="583.7" cy="763.8" r="1.9" fill="none" stroke="#888" stroke-width="0.6"/>
<line x1="583.7" y1="761.9" x2="583.7" y2="759.6" stroke="#999" stroke-width="0.45"/>
<line x1="585.51" y1="763.21" x2="587.69" y2="762.5" stroke="#999" stroke-width="0.45"/>
<line x1="584.82" y1="765.34" x2="586.17" y2="767.2" stroke="#999" stroke-width="0.45"/>
<line x1="582.58" y1="765.34" x2="581.23" y2="767.2" stroke="#999" stroke-width="0.45"/>
<line x1="581.89" y1="763.21" x2="579.71" y2="762.5" stroke="#999" stroke-width="0.45"/>
<circle cx="624.7" cy="722.8" r="4.4" fill="#fff" stroke="#555" stroke-width="0.75"/>
<circle cx="624.7" cy="722.8" r="1.9" fill="none" stroke="#888" stroke-width="0.6"/>
<line x1="624.7" y1="720.9" x2="624.7" y2="718.6" stroke="#999" stroke-width="0.45"/>
<line x1="626.51" y1="722.21" x2="628.69" y2="721.5" stroke="#999" stroke-width="0.45"/>
<line x1="625.82" y1="724.34" x2="627.17" y2="726.2" stroke="#999" stroke-width="0.45"/>
<line x1="623.58" y1="724.34" x2="622.23" y2="726.2" stroke="#999" stroke-width="0.45"/>
<line x1="622.89" y1="722.21" x2="620.71" y2="721.5" stroke="#999" stroke-width="0.45"/>
<circle cx="624.7" cy="763.8" r="4.4" fill="#fff" stroke="#555" stroke-width="0.75"/>
<circle cx="624.7" cy="763.8" r="1.9" fill="none" stroke="#888" stroke-width="0.6"/>
<line x1="624.7" y1="761.9" x2="624.7" y2="759.6" stroke="#999" stroke-width="0.45"/>
<line x1="626.51" y1="763.21" x2="628.69" y2="762.5" stroke="#999" stroke-width="0.45"/>
<line x1="625.82" y1="765.34" x2="627.17" y2="767.2" stroke="#999" stroke-width="0.45"/>
<line x1="623.58" y1="765.34" x2="622.23" y2="767.2" stroke="#999" stroke-width="0.45"/>
<line x1="622.89" y1="763.21" x2="620.71" y2="762.5" stroke="#999" stroke-width="0.45"/>
<circle cx="604.2" cy="743.3" r="24.4" fill="#fff" stroke="#555" stroke-width="0.8"/>
<path d="M591.7 764.8 V768.6 H617 V764.8" fill="#fff" stroke="#777" stroke-width="0.7"/>
<rect x="593.2" y="766.9" width="22" height="1.3" fill="#ccc"/>
<circle cx="604.2" cy="743.3" r="24.4" fill="none" stroke="#555" stroke-width="0.8"/>
<path d="M600.92 729.87 L602.25 723.99 L605 719.32" fill="none" stroke="#555" stroke-width="0.75"/>
<path d="M602.69 729.55 L604.02 723.67 L606.77 719" fill="none" stroke="#555" stroke-width="0.75"/>
<path d="M614.19 733.74 L619.95 731.95 L625.37 732" fill="none" stroke="#555" stroke-width="0.75"/>
<path d="M615.35 735.12 L621.11 733.33 L626.53 733.38" fill="none" stroke="#555" stroke-width="0.75"/>
<path d="M617.48 747.17 L621.9 751.27 L624.57 755.99" fill="none" stroke="#555" stroke-width="0.75"/>
<path d="M616.86 748.87 L621.29 752.96 L623.95 757.68" fill="none" stroke="#555" stroke-width="0.75"/>
<path d="M608.64 756.4 L607.83 762.37 L605.49 767.26" fill="none" stroke="#555" stroke-width="0.75"/>
<path d="M606.9 756.86 L606.09 762.84 L603.75 767.73" fill="none" stroke="#555" stroke-width="0.75"/>
<path d="M591.54 748.87 L585.52 748.57 L580.44 746.68" fill="none" stroke="#555" stroke-width="0.75"/>
<path d="M590.92 747.17 L584.9 746.88 L579.82 744.98" fill="none" stroke="#555" stroke-width="0.75"/>
<path d="M592.38 736.12 L589.16 731.02 L587.81 725.77" fill="none" stroke="#555" stroke-width="0.75"/>
<path d="M593.41 734.65 L590.2 729.55 L588.84 724.3" fill="none" stroke="#555" stroke-width="0.75"/>
<circle cx="604.2" cy="743.3" r="13.8" fill="#fff" stroke="#555" stroke-width="0.85"/>
<line x1="602.9" y1="730.3" x2="602.9" y2="755.8" stroke="#666" stroke-width="0.8"/>
<line x1="609.8" y1="732.3" x2="609.8" y2="754.3" stroke="#666" stroke-width="0.8"/>
<rect x="596.9" y="740.8" width="1.5" height="3" fill="#222"/>
<rect x="596.9" y="745.3" width="1.5" height="4.8" fill="#333"/>
<rect x="601.4" y="734.8" width="1.1" height="9" fill="#aaa"/>
<rect x="605.8" y="736.8" width="1.8" height="9" fill="#bbb"/>
<rect x="608.8" y="733.3" width="1.1" height="3.5" fill="#222"/>
<rect x="611.2" y="739.3" width="2.2" height="2" fill="#333"/>
<rect x="611.2" y="742.5" width="2.2" height="2.4" fill="#333"/>
<rect x="614.2" y="740.8" width="1.2" height="6.5" fill="#333"/>
<circle cx="600" cy="737.7" r="0.65" fill="#222"/>
<circle cx="600" cy="743.8" r="0.65" fill="#222"/>
<circle cx="602.6" cy="746.8" r="0.65" fill="#222"/>
<circle cx="600" cy="750.6" r="0.65" fill="#222"/>
<rect x="592.6" y="742.7" width="1.4" height="1" fill="#222"/>
<circle cx="635.6" cy="734.8" r="3.6" fill="#fff" stroke="#555" stroke-width="0.8"/>
<circle cx="635.6" cy="734.8" r="1.62" fill="none" stroke="#999" stroke-width="0.6"/>
<circle cx="661.2" cy="760.3" r="3.6" fill="#fff" stroke="#555" stroke-width="0.8"/>
<circle cx="661.2" cy="760.3" r="1.62" fill="none" stroke="#999" stroke-width="0.6"/>
<circle cx="648.6" cy="746.8" r="14.6" fill="#fff" stroke="#444" stroke-width="0.9"/>
<circle cx="648.6" cy="746.8" r="12.6" fill="none" stroke="#555" stroke-width="0.75"/>
<circle cx="648.6" cy="746.8" r="10" fill="none" stroke="#777" stroke-width="0.6"/>
<circle cx="643.6" cy="744.5" r="1.2" fill="none" stroke="#555" stroke-width="0.6"/>
<circle cx="653.6" cy="744.5" r="1.2" fill="none" stroke="#555" stroke-width="0.6"/>
<circle cx="648.6" cy="751.8" r="1.2" fill="none" stroke="#555" stroke-width="0.6"/>
<circle cx="665.4" cy="734.8" r="3.6" fill="#fff" stroke="#555" stroke-width="0.8"/>
<circle cx="665.4" cy="734.8" r="1.62" fill="none" stroke="#999" stroke-width="0.6"/>
<circle cx="691" cy="760.3" r="3.6" fill="#fff" stroke="#555" stroke-width="0.8"/>
<circle cx="691" cy="760.3" r="1.62" fill="none" stroke="#999" stroke-width="0.6"/>
<circle cx="678.4" cy="746.8" r="14.6" fill="#fff" stroke="#444" stroke-width="0.9"/>
<circle cx="678.4" cy="746.8" r="12.6" fill="none" stroke="#555" stroke-width="0.75"/>
<circle cx="678.4" cy="746.8" r="10" fill="none" stroke="#777" stroke-width="0.6"/>
<circle cx="673.4" cy="744.5" r="1.2" fill="none" stroke="#555" stroke-width="0.6"/>
<circle cx="683.4" cy="744.5" r="1.2" fill="none" stroke="#555" stroke-width="0.6"/>
<circle cx="678.4" cy="751.8" r="1.2" fill="none" stroke="#555" stroke-width="0.6"/>
<circle cx="695.1" cy="734.8" r="3.6" fill="#fff" stroke="#555" stroke-width="0.8"/>
<circle cx="695.1" cy="734.8" r="1.62" fill="none" stroke="#999" stroke-width="0.6"/>
<circle cx="720.7" cy="760.3" r="3.6" fill="#fff" stroke="#555" stroke-width="0.8"/>
<circle cx="720.7" cy="760.3" r="1.62" fill="none" stroke="#999" stroke-width="0.6"/>
<circle cx="708.1" cy="746.8" r="14.6" fill="#fff" stroke="#444" stroke-width="0.9"/>
<circle cx="708.1" cy="746.8" r="12.6" fill="none" stroke="#555" stroke-width="0.75"/>
<circle cx="708.1" cy="746.8" r="10" fill="none" stroke="#777" stroke-width="0.6"/>
<circle cx="703.1" cy="744.5" r="1.2" fill="none" stroke="#555" stroke-width="0.6"/>
<circle cx="713.1" cy="744.5" r="1.2" fill="none" stroke="#555" stroke-width="0.6"/>
<circle cx="708.1" cy="751.8" r="1.2" fill="none" stroke="#555" stroke-width="0.6"/>
<circle cx="724.2" cy="734.8" r="3.6" fill="#fff" stroke="#555" stroke-width="0.8"/>
<circle cx="724.2" cy="734.8" r="1.62" fill="none" stroke="#999" stroke-width="0.6"/>
<circle cx="749.8" cy="760.3" r="3.6" fill="#fff" stroke="#555" stroke-width="0.8"/>
<circle cx="749.8" cy="760.3" r="1.62" fill="none" stroke="#999" stroke-width="0.6"/>
<circle cx="737.2" cy="746.8" r="14.6" fill="#fff" stroke="#444" stroke-width="0.9"/>
<circle cx="737.2" cy="746.8" r="12.6" fill="none" stroke="#555" stroke-width="0.75"/>
<circle cx="737.2" cy="746.8" r="10" fill="none" stroke="#777" stroke-width="0.6"/>
<circle cx="732.2" cy="744.5" r="1.2" fill="none" stroke="#555" stroke-width="0.6"/>
<circle cx="742.2" cy="744.5" r="1.2" fill="none" stroke="#555" stroke-width="0.6"/>
<circle cx="737.2" cy="751.8" r="1.2" fill="none" stroke="#555" stroke-width="0.6"/>
<text x="648.6" y="727.2" font-size="4.4" font-weight="bold" text-anchor="middle" fill="#231f20">CH-D</text>
<text x="678.4" y="727.2" font-size="4.4" font-weight="bold" text-anchor="middle" fill="#231f20">CH-C</text>
<text x="708.1" y="727.2" font-size="4.4" font-weight="bold" text-anchor="middle" fill="#231f20">CH-B</text>
<text x="737.2" y="727.2" font-size="4.4" font-weight="bold" text-anchor="middle" fill="#231f20">CH-A</text>
<text x="693.6" y="767.8" font-size="3.9" font-weight="bold" text-anchor="middle" fill="#222" textLength="73.5" lengthAdjust="spacingAndGlyphs">XLR: PIN 1=GND  PIN 2=IN+  PIN 3=IN-</text>
<text x="462.8" y="642.7" font-size="13" fill="#111" stroke="#111" stroke-width="0.5" letter-spacing="1.6">AMP</text>
<text x="462.8" y="658.2" font-size="13" fill="#111" stroke="#111" stroke-width="0.5" letter-spacing="1.6">OUTPUTS</text>
<path d="M15 264.3 H3 V823.2 H472.8 V742" fill="none" stroke="#110d0d" stroke-width="5" stroke-linejoin="round"/>
<path d="M201 264.3 H168.8 V791.6 H424.8 V742" fill="none" stroke="#110d0d" stroke-width="5" stroke-linejoin="round"/>
<path d="M810.5 264.4 H823.6 V793.8 H560.6 V741" fill="none" stroke="#110d0d" stroke-width="5" stroke-linejoin="round"/>
<path d="M984 264.4 H997.2 V824.3 H513 V741" fill="none" stroke="#110d0d" stroke-width="5" stroke-linejoin="round"/>
<path d="M176 475 H178.1 V523.2 H426 V571" fill="none" stroke="#110d0d" stroke-width="3.8" stroke-linejoin="miter"/>
<path d="M611 471.3 H624.5 V522.6 H472 V571" fill="none" stroke="#110d0d" stroke-width="3.8" stroke-linejoin="miter"/>
<rect x="421" y="119.6" width="145.6" height="152" fill="#fff" stroke="#505050" stroke-width="1"/>
<line x1="421" y1="172.6" x2="566.6" y2="172.6" stroke="#505050" stroke-width="1"/>
<line x1="445" y1="119.6" x2="445" y2="271.6" stroke="#505050" stroke-width="1"/>
<line x1="468.4" y1="119.6" x2="468.4" y2="271.6" stroke="#505050" stroke-width="1"/>
<line x1="529" y1="119.6" x2="529" y2="172.6" stroke="#505050" stroke-width="1"/>
<line x1="494.4" y1="172.6" x2="494.4" y2="271.6" stroke="#505050" stroke-width="1"/>
<line x1="520" y1="172.6" x2="520" y2="271.6" stroke="#505050" stroke-width="1"/>
<circle cx="478" cy="139.6" r="6.6" fill="#d2d2d2"/>
<circle cx="478" cy="139.6" r="4.3" fill="#b2b2b2" stroke="#4a4a4a" stroke-width="1"/>
<circle cx="492" cy="139.6" r="6.6" fill="#d2d2d2"/>
<circle cx="492" cy="139.6" r="4.3" fill="#b2b2b2" stroke="#4a4a4a" stroke-width="1"/>
<circle cx="506" cy="139.6" r="6.6" fill="#d2d2d2"/>
<circle cx="506" cy="139.6" r="4.3" fill="#b2b2b2" stroke="#4a4a4a" stroke-width="1"/>
<circle cx="521" cy="139.6" r="6.6" fill="#d2d2d2"/>
<circle cx="521" cy="139.6" r="4.3" fill="#b2b2b2" stroke="#4a4a4a" stroke-width="1"/>
<circle cx="535.6" cy="139.6" r="6.6" fill="#d2d2d2"/>
<circle cx="535.6" cy="139.6" r="4.3" fill="#b2b2b2" stroke="#4a4a4a" stroke-width="1"/>
<circle cx="554" cy="144.4" r="1.6" fill="#fff" stroke="#231f20" stroke-width="0.9"/>
<circle cx="434" cy="156.6" r="6.6" fill="#d2d2d2"/>
<circle cx="434" cy="156.6" r="4.3" fill="#b2b2b2" stroke="#4a4a4a" stroke-width="1"/>
<circle cx="456.6" cy="156.6" r="6.6" fill="#d2d2d2"/>
<circle cx="456.6" cy="156.6" r="4.3" fill="#b2b2b2" stroke="#4a4a4a" stroke-width="1"/>
<circle cx="478" cy="156.6" r="6.6" fill="#d2d2d2"/>
<circle cx="478" cy="156.6" r="4.3" fill="#b2b2b2" stroke="#4a4a4a" stroke-width="1"/>
<circle cx="493" cy="156.6" r="6.6" fill="#d2d2d2"/>
<circle cx="493" cy="156.6" r="4.3" fill="#b2b2b2" stroke="#4a4a4a" stroke-width="1"/>
<circle cx="506" cy="156.6" r="6.6" fill="#d2d2d2"/>
<circle cx="506" cy="156.6" r="4.3" fill="#b2b2b2" stroke="#4a4a4a" stroke-width="1"/>
<circle cx="521" cy="156.6" r="6.6" fill="#d2d2d2"/>
<circle cx="521" cy="156.6" r="4.3" fill="#b2b2b2" stroke="#4a4a4a" stroke-width="1"/>
<circle cx="536.6" cy="156.6" r="6.6" fill="#d2d2d2"/>
<circle cx="536.6" cy="156.6" r="4.3" fill="#b2b2b2" stroke="#4a4a4a" stroke-width="1"/>
<circle cx="554" cy="156.6" r="6.6" fill="#d2d2d2"/>
<circle cx="554" cy="156.6" r="4.3" fill="#b2b2b2" stroke="#4a4a4a" stroke-width="1"/>
<circle cx="432" cy="191" r="4.8" fill="#fff" stroke="#231f20" stroke-width="1.05"/>
<line x1="428.45" y1="194.55" x2="432.58" y2="190.42" stroke="#231f20" stroke-width="1.3"/>
<circle cx="432" cy="205.6" r="4.8" fill="#fff" stroke="#231f20" stroke-width="1.05"/>
<line x1="428.45" y1="209.15" x2="432.58" y2="205.02" stroke="#231f20" stroke-width="1.3"/>
<circle cx="432" cy="220.6" r="4.8" fill="#fff" stroke="#231f20" stroke-width="1.05"/>
<line x1="428.45" y1="224.15" x2="432.58" y2="220.02" stroke="#231f20" stroke-width="1.3"/>
<circle cx="432" cy="236" r="4.8" fill="#fff" stroke="#231f20" stroke-width="1.05"/>
<line x1="428.45" y1="239.55" x2="432.58" y2="235.42" stroke="#231f20" stroke-width="1.3"/>
<circle cx="432" cy="251" r="4.8" fill="#fff" stroke="#231f20" stroke-width="1.05"/>
<line x1="428.45" y1="254.55" x2="432.58" y2="250.42" stroke="#231f20" stroke-width="1.3"/>
<circle cx="455.4" cy="191" r="4.8" fill="#fff" stroke="#231f20" stroke-width="1.05"/>
<line x1="451.85" y1="194.55" x2="455.98" y2="190.42" stroke="#231f20" stroke-width="1.3"/>
<circle cx="455.4" cy="205.6" r="4.8" fill="#fff" stroke="#231f20" stroke-width="1.05"/>
<line x1="451.85" y1="209.15" x2="455.98" y2="205.02" stroke="#231f20" stroke-width="1.3"/>
<circle cx="455.4" cy="220.6" r="4.8" fill="#fff" stroke="#231f20" stroke-width="1.05"/>
<line x1="451.85" y1="224.15" x2="455.98" y2="220.02" stroke="#231f20" stroke-width="1.3"/>
<circle cx="455.4" cy="236" r="4.8" fill="#fff" stroke="#231f20" stroke-width="1.05"/>
<line x1="451.85" y1="239.55" x2="455.98" y2="235.42" stroke="#231f20" stroke-width="1.3"/>
<circle cx="455.4" cy="251" r="4.8" fill="#fff" stroke="#231f20" stroke-width="1.05"/>
<line x1="451.85" y1="254.55" x2="455.98" y2="250.42" stroke="#231f20" stroke-width="1.3"/>
<circle cx="481.4" cy="191" r="4.8" fill="#fff" stroke="#231f20" stroke-width="1.05"/>
<line x1="477.85" y1="194.55" x2="481.98" y2="190.42" stroke="#231f20" stroke-width="1.3"/>
<circle cx="481.4" cy="205.6" r="4.8" fill="#fff" stroke="#231f20" stroke-width="1.05"/>
<line x1="477.85" y1="209.15" x2="481.98" y2="205.02" stroke="#231f20" stroke-width="1.3"/>
<circle cx="481.4" cy="236" r="4.8" fill="#fff" stroke="#231f20" stroke-width="1.05"/>
<line x1="477.85" y1="239.55" x2="481.98" y2="235.42" stroke="#231f20" stroke-width="1.3"/>
<circle cx="481.4" cy="251" r="4.8" fill="#fff" stroke="#231f20" stroke-width="1.05"/>
<line x1="477.85" y1="254.55" x2="481.98" y2="250.42" stroke="#231f20" stroke-width="1.3"/>
<circle cx="506.6" cy="191" r="4.8" fill="#fff" stroke="#231f20" stroke-width="1.05"/>
<line x1="503.05" y1="194.55" x2="507.18" y2="190.42" stroke="#231f20" stroke-width="1.3"/>
<circle cx="506.6" cy="205.6" r="4.8" fill="#fff" stroke="#231f20" stroke-width="1.05"/>
<line x1="503.05" y1="209.15" x2="507.18" y2="205.02" stroke="#231f20" stroke-width="1.3"/>
<circle cx="506.6" cy="236" r="4.8" fill="#fff" stroke="#231f20" stroke-width="1.05"/>
<line x1="503.05" y1="239.55" x2="507.18" y2="235.42" stroke="#231f20" stroke-width="1.3"/>
<circle cx="506.6" cy="251" r="4.8" fill="#fff" stroke="#231f20" stroke-width="1.05"/>
<line x1="503.05" y1="254.55" x2="507.18" y2="250.42" stroke="#231f20" stroke-width="1.3"/>
<circle cx="531" cy="191" r="1.9" fill="#fff" stroke="#111" stroke-width="1.6"/>
<circle cx="543" cy="191" r="4.3" fill="#c8c8c8" stroke="#333" stroke-width="0.9"/>
<circle cx="543" cy="191" r="2.6" fill="#fff" stroke="#333" stroke-width="1"/>
<circle cx="555" cy="191" r="4.3" fill="#c8c8c8" stroke="#333" stroke-width="0.9"/>
<circle cx="555" cy="191" r="2.6" fill="#fff" stroke="#333" stroke-width="1"/>
<circle cx="531" cy="205.6" r="1.9" fill="#fff" stroke="#111" stroke-width="1.6"/>
<circle cx="543" cy="205.6" r="4.3" fill="#c8c8c8" stroke="#333" stroke-width="0.9"/>
<circle cx="543" cy="205.6" r="2.6" fill="#fff" stroke="#333" stroke-width="1"/>
<circle cx="555" cy="205.6" r="4.3" fill="#c8c8c8" stroke="#333" stroke-width="0.9"/>
<circle cx="555" cy="205.6" r="2.6" fill="#fff" stroke="#333" stroke-width="1"/>
<circle cx="532" cy="217.6" r="4.8" fill="#fff" stroke="#231f20" stroke-width="1.05"/>
<line x1="528.45" y1="221.15" x2="532.58" y2="217.02" stroke="#231f20" stroke-width="1.3"/>
<rect x="528.5" y="228.4" width="8" height="3.2" fill="#fff" stroke="#231f20" stroke-width="0.7"/>
<rect x="532.5" y="228.4" width="4" height="3.2" fill="#231f20"/>
<rect x="528.5" y="236" width="8" height="3.2" fill="#fff" stroke="#231f20" stroke-width="0.7"/>
<rect x="532.5" y="236" width="4" height="3.2" fill="#231f20"/>
<circle cx="532" cy="251" r="4.8" fill="#fff" stroke="#231f20" stroke-width="1.05"/>
<line x1="528.45" y1="254.55" x2="532.58" y2="250.42" stroke="#231f20" stroke-width="1.3"/>
<circle cx="554" cy="251" r="4.8" fill="#fff" stroke="#231f20" stroke-width="1.05"/>
<line x1="550.45" y1="254.55" x2="554.58" y2="250.42" stroke="#231f20" stroke-width="1.3"/>
<path d="M286 23.6 A12.3 12.3 0 1 0 286 41.4" fill="#fff" stroke="#231f20" stroke-width="1.3"/>
<line x1="278.1" y1="20.4" x2="278.1" y2="44.6" stroke="#231f20" stroke-width="1"/>
<line x1="279.4" y1="20.5" x2="279.4" y2="44.5" stroke="#231f20" stroke-width="0.8"/>
<path d="M286 23.6 L291 24.8 L291 40.2 L286 41.4 Z" fill="#231f20"/>
<path d="M287.1 26 L289.3 26.5 L289.3 38.5 L287.1 39 Z" fill="#888"/>
<path d="M291 24.8 L299.5 26.3 L344 26.3 L344 38.7 L299.5 38.7 L291 40.2 Z" fill="#fff" stroke="#231f20" stroke-width="1.3"/>
<line x1="340.5" y1="26.3" x2="340.5" y2="38.7" stroke="#231f20" stroke-width="1.1"/>
<path d="M344 27.3 L381.8 30.5 L381.8 34.5 L344 37.7 Z" fill="#231f20"/>
<path d="M246 68.1 A12.3 12.3 0 1 0 246 85.9" fill="#fff" stroke="#231f20" stroke-width="1.3"/>
<line x1="238.1" y1="64.9" x2="238.1" y2="89.1" stroke="#231f20" stroke-width="1"/>
<line x1="239.4" y1="65" x2="239.4" y2="89" stroke="#231f20" stroke-width="0.8"/>
<path d="M246 68.1 L251 69.3 L251 84.7 L246 85.9 Z" fill="#231f20"/>
<path d="M247.1 70.5 L249.3 71 L249.3 83 L247.1 83.5 Z" fill="#888"/>
<path d="M251 69.3 L259.5 70.8 L304 70.8 L304 83.2 L259.5 83.2 L251 84.7 Z" fill="#fff" stroke="#231f20" stroke-width="1.3"/>
<line x1="300.5" y1="70.8" x2="300.5" y2="83.2" stroke="#231f20" stroke-width="1.1"/>
<path d="M304 71.8 L339.5 75 L339.5 79 L304 82.2 Z" fill="#231f20"/>
<path d="M381 32.5 C430 33 457.7 58 457.7 106" fill="none" stroke="#231f20" stroke-width="2.6"/>
<path d="M339 76.8 C390 78 435 88 434.5 106" fill="none" stroke="#231f20" stroke-width="2.6"/>
<path d="M430.7 109 Q430.7 105.2 434.6 105.2 Q438.5 105.2 438.5 109 C439.2 118 441.9 128 441.9 133 C441.9 138.5 438.8 140.8 434.6 140.8 C430.4 140.8 427.3 138.5 427.3 133 C427.3 128 430 118 430.7 109 Z" fill="#231f20" stroke="#000" stroke-width="0.6"/>
<path d="M453.8 109 Q453.8 105.2 457.7 105.2 Q461.6 105.2 461.6 109 C462.3 118 465 128 465 133 C465 138.5 461.9 140.8 457.7 140.8 C453.5 140.8 450.4 138.5 450.4 133 C450.4 128 453.1 118 453.8 109 Z" fill="#231f20" stroke="#000" stroke-width="0.6"/>
<path d="M505 139 L505 39.5 L647.6 39.5 L648.6 343.2 L809.7 343.2 L809.5 690.6 L739.4 690.6 L738.3 735" fill="none" stroke="#110d0d" stroke-width="3.2" stroke-linejoin="miter"/>
<path d="M507 156.6 L514 156.6 L514 47.4 L637.4 47.4 L638.6 354.8 L795.3 354.8 L795.4 672.6 L710.6 672.6 L709.4 736" fill="none" stroke="#110d0d" stroke-width="3.2" stroke-linejoin="miter"/>
<path d="M520.8 139 L520.8 56.3 L630 56.3 L631.3 366.4 L782.7 366.4 L782.8 654.8 L678.9 654.8 L677.8 736.5" fill="none" stroke="#110d0d" stroke-width="3.2" stroke-linejoin="miter"/>
<path d="M521 156.6 L528 156.6 L528 68.9 L623.3 68.9 L624.4 379 L772.8 379 L773 634.4 L647.8 634.4 L646.7 735" fill="none" stroke="#110d0d" stroke-width="3.2" stroke-linejoin="miter"/>
<path d="M536 139 L536 85.9 L614.4 85.9 L615.2 408 L737 408 L736.4 571" fill="none" stroke="#110d0d" stroke-width="3.2" stroke-linejoin="miter"/>
<path d="M537 156.6 L545.6 156.6 L545.6 105 L595.2 105 L595.5 445.5 L652 445.5 L650.5 578" fill="none" stroke="#110d0d" stroke-width="3.2" stroke-linejoin="miter"/>
<text x="379" y="907.9" font-size="21.3" font-weight="bold" fill="#111" letter-spacing="0.88">DP-2200N(F) Amplifier</text>
<rect x="218.6" y="920.2" width="554.6" height="51.6" rx="1.5" fill="#fff" stroke="#9a9a9a" stroke-width="1.2"/>
<path d="M218.6 920.2 H240.2 V932.4 Q240.2 935.4 237.2 935.4 H218.6" fill="none" stroke="#888" stroke-width="1.1"/>
<path d="M218.6 971.8 H240.2 V959.4 Q240.2 956.4 237.2 956.4 H218.6" fill="none" stroke="#888" stroke-width="1.1"/>
<rect x="223.1" y="923.4" width="13.2" height="8.6" rx="4.3" fill="none" stroke="#6a6a6a" stroke-width="1"/>
<rect x="223.1" y="959.9" width="13.2" height="8.6" rx="4.3" fill="none" stroke="#6a6a6a" stroke-width="1"/>
<path d="M773.2 920.2 H751.8 V932.4 Q751.8 935.4 754.8 935.4 H773.2" fill="none" stroke="#888" stroke-width="1.1"/>
<path d="M773.2 971.8 H751.8 V959.4 Q751.8 956.4 754.8 956.4 H773.2" fill="none" stroke="#888" stroke-width="1.1"/>
<rect x="756.1" y="923.4" width="13.2" height="8.6" rx="4.3" fill="none" stroke="#6a6a6a" stroke-width="1"/>
<rect x="756.1" y="959.9" width="13.2" height="8.6" rx="4.3" fill="none" stroke="#6a6a6a" stroke-width="1"/>
<circle cx="257.8" cy="927.8" r="3.3" fill="#8a8a8a"/>
<circle cx="257.8" cy="927.8" r="2.3" fill="#2a2a2a"/>
<circle cx="257.8" cy="927.8" r="1" fill="#eee"/>
<circle cx="257.8" cy="964.2" r="3.3" fill="#8a8a8a"/>
<circle cx="257.8" cy="964.2" r="2.3" fill="#2a2a2a"/>
<circle cx="257.8" cy="964.2" r="1" fill="#eee"/>
<circle cx="734" cy="927.8" r="3.3" fill="#8a8a8a"/>
<circle cx="734" cy="927.8" r="2.3" fill="#2a2a2a"/>
<circle cx="734" cy="927.8" r="1" fill="#eee"/>
<circle cx="734" cy="964.2" r="3.3" fill="#8a8a8a"/>
<circle cx="734" cy="964.2" r="2.3" fill="#2a2a2a"/>
<circle cx="734" cy="964.2" r="1" fill="#eee"/>
<rect x="261" y="926.3" width="136.5" height="39.3" rx="9" fill="#fff" stroke="#8a8a8a" stroke-width="1"/>
<rect x="264.5" y="929.6" width="129.5" height="33" rx="6.5" fill="#fff" stroke="#8a8a8a" stroke-width="1"/>
<clipPath id="f1l"><rect x="310" y="930.5" width="83" height="31.2" rx="5"/></clipPath>
<g clip-path="url(#f1l)">
<rect x="313.6" y="930.9" width="11.2" height="4.2" rx="2.1" fill="#fff" stroke="#999" stroke-width="0.9"/>
<rect x="327.35" y="930.9" width="11.2" height="4.2" rx="2.1" fill="#fff" stroke="#999" stroke-width="0.9"/>
<rect x="341.1" y="930.9" width="11.2" height="4.2" rx="2.1" fill="#fff" stroke="#999" stroke-width="0.9"/>
<rect x="354.85" y="930.9" width="11.2" height="4.2" rx="2.1" fill="#fff" stroke="#999" stroke-width="0.9"/>
<rect x="368.6" y="930.9" width="11.2" height="4.2" rx="2.1" fill="#fff" stroke="#999" stroke-width="0.9"/>
<rect x="382.35" y="930.9" width="11.2" height="4.2" rx="2.1" fill="#fff" stroke="#999" stroke-width="0.9"/>
<rect x="396.1" y="930.9" width="11.2" height="4.2" rx="2.1" fill="#fff" stroke="#999" stroke-width="0.9"/>
<rect x="320.5" y="937.5" width="11.2" height="4.2" rx="2.1" fill="#fff" stroke="#999" stroke-width="0.9"/>
<rect x="334.25" y="937.5" width="11.2" height="4.2" rx="2.1" fill="#fff" stroke="#999" stroke-width="0.9"/>
<rect x="348" y="937.5" width="11.2" height="4.2" rx="2.1" fill="#fff" stroke="#999" stroke-width="0.9"/>
<rect x="361.75" y="937.5" width="11.2" height="4.2" rx="2.1" fill="#fff" stroke="#999" stroke-width="0.9"/>
<rect x="375.5" y="937.5" width="11.2" height="4.2" rx="2.1" fill="#fff" stroke="#999" stroke-width="0.9"/>
<rect x="389.25" y="937.5" width="11.2" height="4.2" rx="2.1" fill="#fff" stroke="#999" stroke-width="0.9"/>
<rect x="403" y="937.5" width="11.2" height="4.2" rx="2.1" fill="#fff" stroke="#999" stroke-width="0.9"/>
<rect x="313.6" y="943.8" width="11.2" height="4.2" rx="2.1" fill="#fff" stroke="#999" stroke-width="0.9"/>
<rect x="327.35" y="943.8" width="11.2" height="4.2" rx="2.1" fill="#fff" stroke="#999" stroke-width="0.9"/>
<rect x="341.1" y="943.8" width="11.2" height="4.2" rx="2.1" fill="#fff" stroke="#999" stroke-width="0.9"/>
<rect x="354.85" y="943.8" width="11.2" height="4.2" rx="2.1" fill="#fff" stroke="#999" stroke-width="0.9"/>
<rect x="368.6" y="943.8" width="11.2" height="4.2" rx="2.1" fill="#fff" stroke="#999" stroke-width="0.9"/>
<rect x="382.35" y="943.8" width="11.2" height="4.2" rx="2.1" fill="#fff" stroke="#999" stroke-width="0.9"/>
<rect x="396.1" y="943.8" width="11.2" height="4.2" rx="2.1" fill="#fff" stroke="#999" stroke-width="0.9"/>
<rect x="320.5" y="950.2" width="11.2" height="4.2" rx="2.1" fill="#fff" stroke="#999" stroke-width="0.9"/>
<rect x="334.25" y="950.2" width="11.2" height="4.2" rx="2.1" fill="#fff" stroke="#999" stroke-width="0.9"/>
<rect x="348" y="950.2" width="11.2" height="4.2" rx="2.1" fill="#fff" stroke="#999" stroke-width="0.9"/>
<rect x="361.75" y="950.2" width="11.2" height="4.2" rx="2.1" fill="#fff" stroke="#999" stroke-width="0.9"/>
<rect x="375.5" y="950.2" width="11.2" height="4.2" rx="2.1" fill="#fff" stroke="#999" stroke-width="0.9"/>
<rect x="389.25" y="950.2" width="11.2" height="4.2" rx="2.1" fill="#fff" stroke="#999" stroke-width="0.9"/>
<rect x="403" y="950.2" width="11.2" height="4.2" rx="2.1" fill="#fff" stroke="#999" stroke-width="0.9"/>
<rect x="313.6" y="956.4" width="11.2" height="4.2" rx="2.1" fill="#fff" stroke="#999" stroke-width="0.9"/>
<rect x="327.35" y="956.4" width="11.2" height="4.2" rx="2.1" fill="#fff" stroke="#999" stroke-width="0.9"/>
<rect x="341.1" y="956.4" width="11.2" height="4.2" rx="2.1" fill="#fff" stroke="#999" stroke-width="0.9"/>
<rect x="354.85" y="956.4" width="11.2" height="4.2" rx="2.1" fill="#fff" stroke="#999" stroke-width="0.9"/>
<rect x="368.6" y="956.4" width="11.2" height="4.2" rx="2.1" fill="#fff" stroke="#999" stroke-width="0.9"/>
<rect x="382.35" y="956.4" width="11.2" height="4.2" rx="2.1" fill="#fff" stroke="#999" stroke-width="0.9"/>
<rect x="396.1" y="956.4" width="11.2" height="4.2" rx="2.1" fill="#fff" stroke="#999" stroke-width="0.9"/>
</g>
<rect x="271.2" y="936" width="17.2" height="19.8" fill="#fff" stroke="#777" stroke-width="1"/>
<path d="M272.9 941.5 h4 v-2 h2 v-1.5 h5.4 v1.5 h2 v2 h0.5 v9.5 h-13.9 z" fill="#fff" stroke="#888" stroke-width="0.9"/>
<rect x="291.6" y="936" width="17.2" height="19.8" fill="#fff" stroke="#777" stroke-width="1"/>
<path d="M293.3 941.5 h4 v-2 h2 v-1.5 h5.4 v1.5 h2 v2 h0.5 v9.5 h-13.9 z" fill="#fff" stroke="#888" stroke-width="0.9"/>
<text x="289.5" y="934.4" font-size="4" font-weight="bold" text-anchor="middle" fill="#333">&#9680;Dante</text>
<path d="M405.6 945 L411.8 937.3 L418.2 945 Q411.8 939.8 405.6 945 Z" fill="none" stroke="#111" stroke-width="1.5" stroke-linejoin="round"/>
<text x="411.6" y="949.6" font-size="4" font-style="italic" font-weight="bold" text-anchor="middle" fill="#222" textLength="25" lengthAdjust="spacingAndGlyphs">Wharfedale</text>
<text x="411.8" y="954" font-size="3.8" font-style="italic" font-weight="bold" text-anchor="middle" fill="#222" textLength="10" lengthAdjust="spacingAndGlyphs">Pro</text>
<rect x="425.8" y="926.2" width="139.8" height="39.4" rx="9" fill="#fff" stroke="#8a8a8a" stroke-width="1"/>
<rect x="440.3" y="929.4" width="84.6" height="33" rx="2" fill="#fff" stroke="#666" stroke-width="1.8"/>
<circle cx="544.7" cy="945.8" r="9.8" fill="#fff" stroke="#333" stroke-width="1.1"/>
<text x="544.7" y="960.5" font-size="3.5" text-anchor="middle" fill="#555" letter-spacing="0.1">PUSH FOR DSP</text>
<text x="580" y="949" font-size="3" text-anchor="middle" fill="#777">Digital Amplifier</text>
<rect x="595.2" y="926.2" width="135" height="39.3" rx="8" fill="#fff" stroke="#8a8a8a" stroke-width="1"/>
<rect x="598.8" y="929.7" width="128" height="32.3" rx="6" fill="#fff" stroke="#8a8a8a" stroke-width="1"/>
<clipPath id="f1r"><rect x="599.5" y="930.3" width="126.5" height="31.2" rx="5.5"/></clipPath>
<g clip-path="url(#f1r)">
<rect x="595.4" y="931.4" width="11.2" height="4.2" rx="2.1" fill="#fff" stroke="#999" stroke-width="0.9"/>
<rect x="609.2" y="931.4" width="11.2" height="4.2" rx="2.1" fill="#fff" stroke="#999" stroke-width="0.9"/>
<rect x="623" y="931.4" width="11.2" height="4.2" rx="2.1" fill="#fff" stroke="#999" stroke-width="0.9"/>
<rect x="636.8" y="931.4" width="11.2" height="4.2" rx="2.1" fill="#fff" stroke="#999" stroke-width="0.9"/>
<rect x="650.6" y="931.4" width="11.2" height="4.2" rx="2.1" fill="#fff" stroke="#999" stroke-width="0.9"/>
<rect x="664.4" y="931.4" width="11.2" height="4.2" rx="2.1" fill="#fff" stroke="#999" stroke-width="0.9"/>
<rect x="678.2" y="931.4" width="11.2" height="4.2" rx="2.1" fill="#fff" stroke="#999" stroke-width="0.9"/>
<rect x="692" y="931.4" width="11.2" height="4.2" rx="2.1" fill="#fff" stroke="#999" stroke-width="0.9"/>
<rect x="602.3" y="937.6" width="11.2" height="4.2" rx="2.1" fill="#fff" stroke="#999" stroke-width="0.9"/>
<rect x="616.1" y="937.6" width="11.2" height="4.2" rx="2.1" fill="#fff" stroke="#999" stroke-width="0.9"/>
<rect x="629.9" y="937.6" width="11.2" height="4.2" rx="2.1" fill="#fff" stroke="#999" stroke-width="0.9"/>
<rect x="643.7" y="937.6" width="11.2" height="4.2" rx="2.1" fill="#fff" stroke="#999" stroke-width="0.9"/>
<rect x="657.5" y="937.6" width="11.2" height="4.2" rx="2.1" fill="#fff" stroke="#999" stroke-width="0.9"/>
<rect x="671.3" y="937.6" width="11.2" height="4.2" rx="2.1" fill="#fff" stroke="#999" stroke-width="0.9"/>
<rect x="685.1" y="937.6" width="11.2" height="4.2" rx="2.1" fill="#fff" stroke="#999" stroke-width="0.9"/>
<rect x="595.4" y="944" width="11.2" height="4.2" rx="2.1" fill="#fff" stroke="#999" stroke-width="0.9"/>
<rect x="609.2" y="944" width="11.2" height="4.2" rx="2.1" fill="#fff" stroke="#999" stroke-width="0.9"/>
<rect x="623" y="944" width="11.2" height="4.2" rx="2.1" fill="#fff" stroke="#999" stroke-width="0.9"/>
<rect x="636.8" y="944" width="11.2" height="4.2" rx="2.1" fill="#fff" stroke="#999" stroke-width="0.9"/>
<rect x="650.6" y="944" width="11.2" height="4.2" rx="2.1" fill="#fff" stroke="#999" stroke-width="0.9"/>
<rect x="664.4" y="944" width="11.2" height="4.2" rx="2.1" fill="#fff" stroke="#999" stroke-width="0.9"/>
<rect x="678.2" y="944" width="11.2" height="4.2" rx="2.1" fill="#fff" stroke="#999" stroke-width="0.9"/>
<rect x="692" y="944" width="11.2" height="4.2" rx="2.1" fill="#fff" stroke="#999" stroke-width="0.9"/>
<rect x="602.3" y="950.3" width="11.2" height="4.2" rx="2.1" fill="#fff" stroke="#999" stroke-width="0.9"/>
<rect x="616.1" y="950.3" width="11.2" height="4.2" rx="2.1" fill="#fff" stroke="#999" stroke-width="0.9"/>
<rect x="629.9" y="950.3" width="11.2" height="4.2" rx="2.1" fill="#fff" stroke="#999" stroke-width="0.9"/>
<rect x="643.7" y="950.3" width="11.2" height="4.2" rx="2.1" fill="#fff" stroke="#999" stroke-width="0.9"/>
<rect x="657.5" y="950.3" width="11.2" height="4.2" rx="2.1" fill="#fff" stroke="#999" stroke-width="0.9"/>
<rect x="671.3" y="950.3" width="11.2" height="4.2" rx="2.1" fill="#fff" stroke="#999" stroke-width="0.9"/>
<rect x="685.1" y="950.3" width="11.2" height="4.2" rx="2.1" fill="#fff" stroke="#999" stroke-width="0.9"/>
<rect x="595.4" y="956.4" width="11.2" height="4.2" rx="2.1" fill="#fff" stroke="#999" stroke-width="0.9"/>
<rect x="609.2" y="956.4" width="11.2" height="4.2" rx="2.1" fill="#fff" stroke="#999" stroke-width="0.9"/>
<rect x="623" y="956.4" width="11.2" height="4.2" rx="2.1" fill="#fff" stroke="#999" stroke-width="0.9"/>
<rect x="636.8" y="956.4" width="11.2" height="4.2" rx="2.1" fill="#fff" stroke="#999" stroke-width="0.9"/>
<rect x="650.6" y="956.4" width="11.2" height="4.2" rx="2.1" fill="#fff" stroke="#999" stroke-width="0.9"/>
<rect x="664.4" y="956.4" width="11.2" height="4.2" rx="2.1" fill="#fff" stroke="#999" stroke-width="0.9"/>
<rect x="678.2" y="956.4" width="11.2" height="4.2" rx="2.1" fill="#fff" stroke="#999" stroke-width="0.9"/>
<rect x="692" y="956.4" width="11.2" height="4.2" rx="2.1" fill="#fff" stroke="#999" stroke-width="0.9"/>
</g>
<circle cx="711.7" cy="945.7" r="12" fill="#fff" stroke="#666" stroke-width="0.9"/>
<circle cx="711.7" cy="945.7" r="10.4" fill="#fff" stroke="#444" stroke-width="0.9"/>
<line x1="711.7" y1="940.5" x2="711.7" y2="944.5" stroke="#222" stroke-width="1"/>
<text x="379.4" y="1011.9" font-size="21.3" font-weight="bold" fill="#111" letter-spacing="0.85">DP-4100N(F) Amplifier</text>
<rect x="222.6" y="1028" width="554.6" height="51.6" rx="1.5" fill="#fff" stroke="#9a9a9a" stroke-width="1.2"/>
<path d="M222.6 1028 H244.2 V1040.2 Q244.2 1043.2 241.2 1043.2 H222.6" fill="none" stroke="#888" stroke-width="1.1"/>
<path d="M222.6 1079.6 H244.2 V1067.2 Q244.2 1064.2 241.2 1064.2 H222.6" fill="none" stroke="#888" stroke-width="1.1"/>
<rect x="227.1" y="1031.2" width="13.2" height="8.6" rx="4.3" fill="none" stroke="#6a6a6a" stroke-width="1"/>
<rect x="227.1" y="1067.7" width="13.2" height="8.6" rx="4.3" fill="none" stroke="#6a6a6a" stroke-width="1"/>
<path d="M777.2 1028 H755.8 V1040.2 Q755.8 1043.2 758.8 1043.2 H777.2" fill="none" stroke="#888" stroke-width="1.1"/>
<path d="M777.2 1079.6 H755.8 V1067.2 Q755.8 1064.2 758.8 1064.2 H777.2" fill="none" stroke="#888" stroke-width="1.1"/>
<rect x="760.1" y="1031.2" width="13.2" height="8.6" rx="4.3" fill="none" stroke="#6a6a6a" stroke-width="1"/>
<rect x="760.1" y="1067.7" width="13.2" height="8.6" rx="4.3" fill="none" stroke="#6a6a6a" stroke-width="1"/>
<circle cx="261.8" cy="1035.6" r="3.3" fill="#8a8a8a"/>
<circle cx="261.8" cy="1035.6" r="2.3" fill="#2a2a2a"/>
<circle cx="261.8" cy="1035.6" r="1" fill="#eee"/>
<circle cx="261.8" cy="1072" r="3.3" fill="#8a8a8a"/>
<circle cx="261.8" cy="1072" r="2.3" fill="#2a2a2a"/>
<circle cx="261.8" cy="1072" r="1" fill="#eee"/>
<circle cx="738" cy="1035.6" r="3.3" fill="#8a8a8a"/>
<circle cx="738" cy="1035.6" r="2.3" fill="#2a2a2a"/>
<circle cx="738" cy="1035.6" r="1" fill="#eee"/>
<circle cx="738" cy="1072" r="3.3" fill="#8a8a8a"/>
<circle cx="738" cy="1072" r="2.3" fill="#2a2a2a"/>
<circle cx="738" cy="1072" r="1" fill="#eee"/>
<rect x="265" y="1034.1" width="136.5" height="39.3" rx="9" fill="#fff" stroke="#8a8a8a" stroke-width="1"/>
<rect x="268.5" y="1037.4" width="129.5" height="33" rx="6.5" fill="#fff" stroke="#8a8a8a" stroke-width="1"/>
<clipPath id="f2l"><rect x="314" y="1038.3" width="83" height="31.2" rx="5"/></clipPath>
<g clip-path="url(#f2l)">
<rect x="317.6" y="1038.7" width="11.2" height="4.2" rx="2.1" fill="#fff" stroke="#999" stroke-width="0.9"/>
<rect x="331.35" y="1038.7" width="11.2" height="4.2" rx="2.1" fill="#fff" stroke="#999" stroke-width="0.9"/>
<rect x="345.1" y="1038.7" width="11.2" height="4.2" rx="2.1" fill="#fff" stroke="#999" stroke-width="0.9"/>
<rect x="358.85" y="1038.7" width="11.2" height="4.2" rx="2.1" fill="#fff" stroke="#999" stroke-width="0.9"/>
<rect x="372.6" y="1038.7" width="11.2" height="4.2" rx="2.1" fill="#fff" stroke="#999" stroke-width="0.9"/>
<rect x="386.35" y="1038.7" width="11.2" height="4.2" rx="2.1" fill="#fff" stroke="#999" stroke-width="0.9"/>
<rect x="400.1" y="1038.7" width="11.2" height="4.2" rx="2.1" fill="#fff" stroke="#999" stroke-width="0.9"/>
<rect x="324.5" y="1045.3" width="11.2" height="4.2" rx="2.1" fill="#fff" stroke="#999" stroke-width="0.9"/>
<rect x="338.25" y="1045.3" width="11.2" height="4.2" rx="2.1" fill="#fff" stroke="#999" stroke-width="0.9"/>
<rect x="352" y="1045.3" width="11.2" height="4.2" rx="2.1" fill="#fff" stroke="#999" stroke-width="0.9"/>
<rect x="365.75" y="1045.3" width="11.2" height="4.2" rx="2.1" fill="#fff" stroke="#999" stroke-width="0.9"/>
<rect x="379.5" y="1045.3" width="11.2" height="4.2" rx="2.1" fill="#fff" stroke="#999" stroke-width="0.9"/>
<rect x="393.25" y="1045.3" width="11.2" height="4.2" rx="2.1" fill="#fff" stroke="#999" stroke-width="0.9"/>
<rect x="407" y="1045.3" width="11.2" height="4.2" rx="2.1" fill="#fff" stroke="#999" stroke-width="0.9"/>
<rect x="317.6" y="1051.6" width="11.2" height="4.2" rx="2.1" fill="#fff" stroke="#999" stroke-width="0.9"/>
<rect x="331.35" y="1051.6" width="11.2" height="4.2" rx="2.1" fill="#fff" stroke="#999" stroke-width="0.9"/>
<rect x="345.1" y="1051.6" width="11.2" height="4.2" rx="2.1" fill="#fff" stroke="#999" stroke-width="0.9"/>
<rect x="358.85" y="1051.6" width="11.2" height="4.2" rx="2.1" fill="#fff" stroke="#999" stroke-width="0.9"/>
<rect x="372.6" y="1051.6" width="11.2" height="4.2" rx="2.1" fill="#fff" stroke="#999" stroke-width="0.9"/>
<rect x="386.35" y="1051.6" width="11.2" height="4.2" rx="2.1" fill="#fff" stroke="#999" stroke-width="0.9"/>
<rect x="400.1" y="1051.6" width="11.2" height="4.2" rx="2.1" fill="#fff" stroke="#999" stroke-width="0.9"/>
<rect x="324.5" y="1058" width="11.2" height="4.2" rx="2.1" fill="#fff" stroke="#999" stroke-width="0.9"/>
<rect x="338.25" y="1058" width="11.2" height="4.2" rx="2.1" fill="#fff" stroke="#999" stroke-width="0.9"/>
<rect x="352" y="1058" width="11.2" height="4.2" rx="2.1" fill="#fff" stroke="#999" stroke-width="0.9"/>
<rect x="365.75" y="1058" width="11.2" height="4.2" rx="2.1" fill="#fff" stroke="#999" stroke-width="0.9"/>
<rect x="379.5" y="1058" width="11.2" height="4.2" rx="2.1" fill="#fff" stroke="#999" stroke-width="0.9"/>
<rect x="393.25" y="1058" width="11.2" height="4.2" rx="2.1" fill="#fff" stroke="#999" stroke-width="0.9"/>
<rect x="407" y="1058" width="11.2" height="4.2" rx="2.1" fill="#fff" stroke="#999" stroke-width="0.9"/>
<rect x="317.6" y="1064.2" width="11.2" height="4.2" rx="2.1" fill="#fff" stroke="#999" stroke-width="0.9"/>
<rect x="331.35" y="1064.2" width="11.2" height="4.2" rx="2.1" fill="#fff" stroke="#999" stroke-width="0.9"/>
<rect x="345.1" y="1064.2" width="11.2" height="4.2" rx="2.1" fill="#fff" stroke="#999" stroke-width="0.9"/>
<rect x="358.85" y="1064.2" width="11.2" height="4.2" rx="2.1" fill="#fff" stroke="#999" stroke-width="0.9"/>
<rect x="372.6" y="1064.2" width="11.2" height="4.2" rx="2.1" fill="#fff" stroke="#999" stroke-width="0.9"/>
<rect x="386.35" y="1064.2" width="11.2" height="4.2" rx="2.1" fill="#fff" stroke="#999" stroke-width="0.9"/>
<rect x="400.1" y="1064.2" width="11.2" height="4.2" rx="2.1" fill="#fff" stroke="#999" stroke-width="0.9"/>
</g>
<rect x="275.2" y="1043.8" width="17.2" height="19.8" fill="#fff" stroke="#777" stroke-width="1"/>
<path d="M276.9 1049.3 h4 v-2 h2 v-1.5 h5.4 v1.5 h2 v2 h0.5 v9.5 h-13.9 z" fill="#fff" stroke="#888" stroke-width="0.9"/>
<rect x="295.6" y="1043.8" width="17.2" height="19.8" fill="#fff" stroke="#777" stroke-width="1"/>
<path d="M297.3 1049.3 h4 v-2 h2 v-1.5 h5.4 v1.5 h2 v2 h0.5 v9.5 h-13.9 z" fill="#fff" stroke="#888" stroke-width="0.9"/>
<text x="293.5" y="1042.2" font-size="4" font-weight="bold" text-anchor="middle" fill="#333">&#9680;Dante</text>
<path d="M409.6 1052.8 L415.8 1045.1 L422.2 1052.8 Q415.8 1047.6 409.6 1052.8 Z" fill="none" stroke="#111" stroke-width="1.5" stroke-linejoin="round"/>
<text x="415.6" y="1057.4" font-size="4" font-style="italic" font-weight="bold" text-anchor="middle" fill="#222" textLength="25" lengthAdjust="spacingAndGlyphs">Wharfedale</text>
<text x="415.8" y="1061.8" font-size="3.8" font-style="italic" font-weight="bold" text-anchor="middle" fill="#222" textLength="10" lengthAdjust="spacingAndGlyphs">Pro</text>
<rect x="429.8" y="1034" width="139.8" height="39.4" rx="9" fill="#fff" stroke="#8a8a8a" stroke-width="1"/>
<rect x="444.3" y="1037.2" width="84.6" height="33" rx="2" fill="#fff" stroke="#666" stroke-width="1.8"/>
<circle cx="548.7" cy="1053.6" r="9.8" fill="#fff" stroke="#333" stroke-width="1.1"/>
<text x="548.7" y="1068.3" font-size="3.5" text-anchor="middle" fill="#555" letter-spacing="0.1">PUSH FOR DSP</text>
<text x="584.6" y="1054.3" font-size="4.6" font-weight="bold" text-anchor="middle" fill="#222" textLength="19" lengthAdjust="spacingAndGlyphs">DP-4100N</text>
<text x="585.5" y="1058.1" font-size="2.6" text-anchor="middle" fill="#666">Digital Amplifier</text>
<rect x="599.2" y="1034" width="135" height="39.3" rx="8" fill="#fff" stroke="#8a8a8a" stroke-width="1"/>
<rect x="602.8" y="1037.5" width="128" height="32.3" rx="6" fill="#fff" stroke="#8a8a8a" stroke-width="1"/>
<clipPath id="f2r"><rect x="603.5" y="1038.1" width="126.5" height="31.2" rx="5.5"/></clipPath>
<g clip-path="url(#f2r)">
<rect x="599.4" y="1039.2" width="11.2" height="4.2" rx="2.1" fill="#fff" stroke="#999" stroke-width="0.9"/>
<rect x="613.2" y="1039.2" width="11.2" height="4.2" rx="2.1" fill="#fff" stroke="#999" stroke-width="0.9"/>
<rect x="627" y="1039.2" width="11.2" height="4.2" rx="2.1" fill="#fff" stroke="#999" stroke-width="0.9"/>
<rect x="640.8" y="1039.2" width="11.2" height="4.2" rx="2.1" fill="#fff" stroke="#999" stroke-width="0.9"/>
<rect x="654.6" y="1039.2" width="11.2" height="4.2" rx="2.1" fill="#fff" stroke="#999" stroke-width="0.9"/>
<rect x="668.4" y="1039.2" width="11.2" height="4.2" rx="2.1" fill="#fff" stroke="#999" stroke-width="0.9"/>
<rect x="682.2" y="1039.2" width="11.2" height="4.2" rx="2.1" fill="#fff" stroke="#999" stroke-width="0.9"/>
<rect x="696" y="1039.2" width="11.2" height="4.2" rx="2.1" fill="#fff" stroke="#999" stroke-width="0.9"/>
<rect x="606.3" y="1045.4" width="11.2" height="4.2" rx="2.1" fill="#fff" stroke="#999" stroke-width="0.9"/>
<rect x="620.1" y="1045.4" width="11.2" height="4.2" rx="2.1" fill="#fff" stroke="#999" stroke-width="0.9"/>
<rect x="633.9" y="1045.4" width="11.2" height="4.2" rx="2.1" fill="#fff" stroke="#999" stroke-width="0.9"/>
<rect x="647.7" y="1045.4" width="11.2" height="4.2" rx="2.1" fill="#fff" stroke="#999" stroke-width="0.9"/>
<rect x="661.5" y="1045.4" width="11.2" height="4.2" rx="2.1" fill="#fff" stroke="#999" stroke-width="0.9"/>
<rect x="675.3" y="1045.4" width="11.2" height="4.2" rx="2.1" fill="#fff" stroke="#999" stroke-width="0.9"/>
<rect x="689.1" y="1045.4" width="11.2" height="4.2" rx="2.1" fill="#fff" stroke="#999" stroke-width="0.9"/>
<rect x="599.4" y="1051.8" width="11.2" height="4.2" rx="2.1" fill="#fff" stroke="#999" stroke-width="0.9"/>
<rect x="613.2" y="1051.8" width="11.2" height="4.2" rx="2.1" fill="#fff" stroke="#999" stroke-width="0.9"/>
<rect x="627" y="1051.8" width="11.2" height="4.2" rx="2.1" fill="#fff" stroke="#999" stroke-width="0.9"/>
<rect x="640.8" y="1051.8" width="11.2" height="4.2" rx="2.1" fill="#fff" stroke="#999" stroke-width="0.9"/>
<rect x="654.6" y="1051.8" width="11.2" height="4.2" rx="2.1" fill="#fff" stroke="#999" stroke-width="0.9"/>
<rect x="668.4" y="1051.8" width="11.2" height="4.2" rx="2.1" fill="#fff" stroke="#999" stroke-width="0.9"/>
<rect x="682.2" y="1051.8" width="11.2" height="4.2" rx="2.1" fill="#fff" stroke="#999" stroke-width="0.9"/>
<rect x="696" y="1051.8" width="11.2" height="4.2" rx="2.1" fill="#fff" stroke="#999" stroke-width="0.9"/>
<rect x="606.3" y="1058.1" width="11.2" height="4.2" rx="2.1" fill="#fff" stroke="#999" stroke-width="0.9"/>
<rect x="620.1" y="1058.1" width="11.2" height="4.2" rx="2.1" fill="#fff" stroke="#999" stroke-width="0.9"/>
<rect x="633.9" y="1058.1" width="11.2" height="4.2" rx="2.1" fill="#fff" stroke="#999" stroke-width="0.9"/>
<rect x="647.7" y="1058.1" width="11.2" height="4.2" rx="2.1" fill="#fff" stroke="#999" stroke-width="0.9"/>
<rect x="661.5" y="1058.1" width="11.2" height="4.2" rx="2.1" fill="#fff" stroke="#999" stroke-width="0.9"/>
<rect x="675.3" y="1058.1" width="11.2" height="4.2" rx="2.1" fill="#fff" stroke="#999" stroke-width="0.9"/>
<rect x="689.1" y="1058.1" width="11.2" height="4.2" rx="2.1" fill="#fff" stroke="#999" stroke-width="0.9"/>
<rect x="599.4" y="1064.2" width="11.2" height="4.2" rx="2.1" fill="#fff" stroke="#999" stroke-width="0.9"/>
<rect x="613.2" y="1064.2" width="11.2" height="4.2" rx="2.1" fill="#fff" stroke="#999" stroke-width="0.9"/>
<rect x="627" y="1064.2" width="11.2" height="4.2" rx="2.1" fill="#fff" stroke="#999" stroke-width="0.9"/>
<rect x="640.8" y="1064.2" width="11.2" height="4.2" rx="2.1" fill="#fff" stroke="#999" stroke-width="0.9"/>
<rect x="654.6" y="1064.2" width="11.2" height="4.2" rx="2.1" fill="#fff" stroke="#999" stroke-width="0.9"/>
<rect x="668.4" y="1064.2" width="11.2" height="4.2" rx="2.1" fill="#fff" stroke="#999" stroke-width="0.9"/>
<rect x="682.2" y="1064.2" width="11.2" height="4.2" rx="2.1" fill="#fff" stroke="#999" stroke-width="0.9"/>
<rect x="696" y="1064.2" width="11.2" height="4.2" rx="2.1" fill="#fff" stroke="#999" stroke-width="0.9"/>
</g>
<circle cx="715.7" cy="1053.5" r="12" fill="#fff" stroke="#666" stroke-width="0.9"/>
<circle cx="715.7" cy="1053.5" r="10.4" fill="#fff" stroke="#444" stroke-width="0.9"/>
<line x1="715.7" y1="1048.3" x2="715.7" y2="1052.3" stroke="#222" stroke-width="1"/>
</svg>
</body></html>
